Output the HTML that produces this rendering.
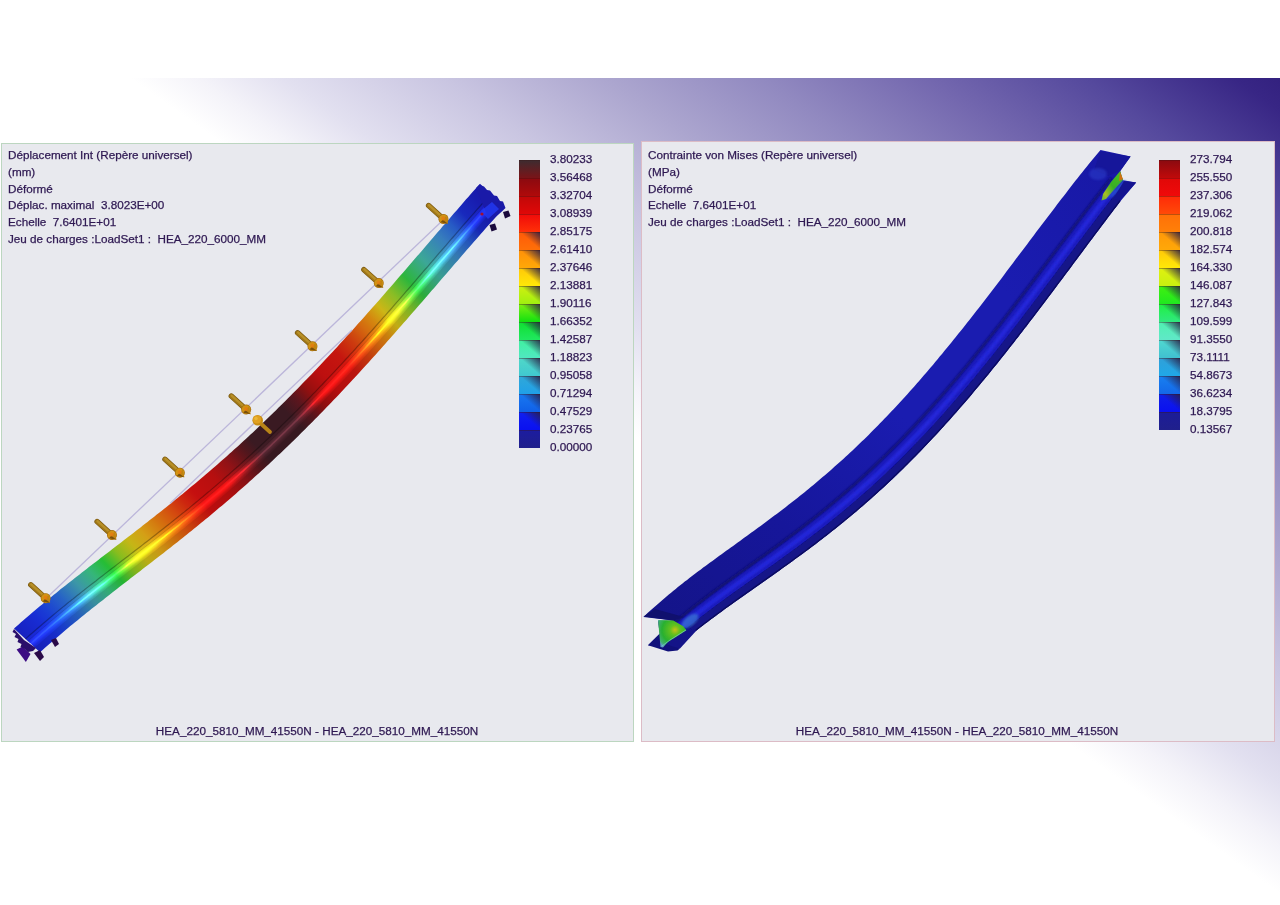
<!DOCTYPE html>
<html><head><meta charset="utf-8"><style>
*{margin:0;padding:0}
body{width:1280px;height:905px;position:relative;overflow:hidden;background:#fff;font-family:"Liberation Sans",sans-serif;color:#2e1852;-webkit-text-stroke:0.25px #2e1852}
.t{position:absolute;font-size:11.7px;line-height:16.7px;white-space:pre}
.lab{position:absolute;font-size:11.7px;line-height:16px;white-space:pre}
.seg{position:absolute;width:21px;height:18px;box-shadow:inset 0 1px 0 rgba(60,20,20,0.35)}
.cap{position:absolute;font-size:11.7px;line-height:14px;white-space:pre;text-align:center;width:632px}
</style></head><body>
<svg width="1280" height="905" viewBox="0 0 1280 905" style="position:absolute;left:0;top:0"><defs><filter id="b1" x="-10%" y="-10%" width="120%" height="120%"><feGaussianBlur stdDeviation="1.2"/></filter><filter id="b2" x="-10%" y="-10%" width="120%" height="120%"><feGaussianBlur stdDeviation="0.6"/></filter><linearGradient id="lbg" gradientUnits="userSpaceOnUse" x1="25" y1="643" x2="492" y2="197"><stop offset="0.0" stop-color="#1a22c8"/><stop offset="0.04" stop-color="#1a30e0"/><stop offset="0.06" stop-color="#1c44e0"/><stop offset="0.09" stop-color="#2a6ad0"/><stop offset="0.122" stop-color="#40a0b0"/><stop offset="0.15" stop-color="#38c080"/><stop offset="0.175" stop-color="#28c838"/><stop offset="0.2" stop-color="#90c820"/><stop offset="0.225" stop-color="#d0c018"/><stop offset="0.25" stop-color="#e0a818"/><stop offset="0.275" stop-color="#e08010"/><stop offset="0.305" stop-color="#e05010"/><stop offset="0.33" stop-color="#d82810"/><stop offset="0.35" stop-color="#d01010"/><stop offset="0.39" stop-color="#c01010"/><stop offset="0.42" stop-color="#981418"/><stop offset="0.45" stop-color="#5a181e"/><stop offset="0.47" stop-color="#3e1c24"/><stop offset="0.54" stop-color="#3e1c24"/><stop offset="0.565" stop-color="#601820"/><stop offset="0.59" stop-color="#a01010"/><stop offset="0.62" stop-color="#c81010"/><stop offset="0.66" stop-color="#d01810"/><stop offset="0.69" stop-color="#d84010"/><stop offset="0.716" stop-color="#e07010"/><stop offset="0.735" stop-color="#e09010"/><stop offset="0.756" stop-color="#d8c018"/><stop offset="0.786" stop-color="#90c828"/><stop offset="0.817" stop-color="#30c040"/><stop offset="0.856" stop-color="#40b0a0"/><stop offset="0.9" stop-color="#3a84c8"/><stop offset="0.925" stop-color="#2a60d0"/><stop offset="0.95" stop-color="#1a2cc8"/><stop offset="0.98" stop-color="#1a1eb8"/><stop offset="1.0" stop-color="#1a1ab4"/></linearGradient><linearGradient id="wg2" x1="1" y1="0" x2="0" y2="1"><stop offset="0" stop-color="#50c020"/><stop offset="0.5" stop-color="#38b020"/><stop offset="0.8" stop-color="#a8c020"/><stop offset="1" stop-color="#60b040"/></linearGradient><linearGradient id="rbg" gradientUnits="userSpaceOnUse" x1="660" y1="630" x2="1110" y2="170"><stop offset="0" stop-color="#141488"/><stop offset="0.25" stop-color="#16169a"/><stop offset="0.5" stop-color="#1a1cb0"/><stop offset="0.75" stop-color="#1a1cb0"/><stop offset="1" stop-color="#1818a6"/></linearGradient><radialGradient id="webg" gradientUnits="userSpaceOnUse" cx="675" cy="630" r="20"><stop offset="0" stop-color="#c8c018"/><stop offset="0.25" stop-color="#60c020"/><stop offset="0.65" stop-color="#28b030"/><stop offset="0.9" stop-color="#40b070"/><stop offset="1" stop-color="#60a0c0"/></radialGradient><linearGradient id="bg" gradientUnits="userSpaceOnUse" x1="895.1" y1="620.7" x2="1280" y2="78"><stop offset="0" stop-color="#ffffff"/><stop offset="0.06" stop-color="#f4f3f9"/><stop offset="0.134" stop-color="#e2e0f0"/><stop offset="0.273" stop-color="#c9c5e1"/><stop offset="0.412" stop-color="#aca6cf"/><stop offset="0.551" stop-color="#9189c0"/><stop offset="0.69" stop-color="#7468af"/><stop offset="0.83" stop-color="#55499d"/><stop offset="0.96" stop-color="#382685"/><stop offset="1.0" stop-color="#33217f"/></linearGradient></defs><rect x="0" y="78" width="1280" height="827" fill="url(#bg)"/><rect x="1.5" y="143.5" width="632" height="598" fill="#e8e9ee" stroke="#bcd6c0" stroke-width="1"/><rect x="641.5" y="141.5" width="633" height="600" fill="#e8e9ee" stroke="#dcbcc6" stroke-width="1"/><polygon points="14.0,628.6 16.3,626.5 18.7,624.4 21.0,622.3 23.4,620.3 25.7,618.3 28.1,616.2 30.4,614.2 32.7,612.2 35.1,610.3 37.4,608.3 39.8,606.3 42.1,604.4 44.4,602.4 46.8,600.5 49.1,598.6 51.5,596.7 53.8,594.8 56.2,592.9 58.5,591.0 60.8,589.1 63.2,587.3 65.5,585.4 67.9,583.6 70.2,581.7 72.5,579.9 74.9,578.0 77.2,576.2 79.6,574.4 81.9,572.6 84.3,570.7 86.6,568.9 88.9,567.1 91.3,565.3 93.6,563.5 96.0,561.7 98.3,559.9 100.6,558.1 103.0,556.3 105.3,554.5 107.7,552.7 110.0,550.9 112.4,549.1 114.7,547.3 117.0,545.5 119.4,543.7 121.7,541.9 124.1,540.1 126.4,538.3 128.7,536.5 131.1,534.7 133.4,532.9 135.8,531.1 138.1,529.3 140.5,527.5 142.8,525.6 145.1,523.8 147.5,522.0 149.8,520.1 152.2,518.3 154.5,516.5 156.8,514.6 159.2,512.8 161.5,510.9 163.9,509.0 166.2,507.2 168.6,505.3 170.9,503.4 173.2,501.5 175.6,499.6 177.9,497.7 180.3,495.8 182.6,493.9 184.9,492.0 187.3,490.0 189.6,488.1 192.0,486.1 194.3,484.2 196.7,482.2 199.0,480.3 201.3,478.3 203.7,476.3 206.0,474.3 208.4,472.3 210.7,470.3 213.0,468.2 215.4,466.2 217.7,464.2 220.1,462.1 222.4,460.1 224.8,458.0 227.1,455.9 229.4,453.8 231.8,451.7 234.1,449.6 236.5,447.5 238.8,445.4 241.1,443.2 243.5,441.1 245.8,438.9 248.2,436.8 250.5,434.6 252.9,432.4 255.2,430.2 257.5,428.0 259.9,425.8 262.2,423.5 264.6,421.3 266.9,419.0 269.2,416.8 271.6,414.5 273.9,412.2 276.3,409.9 278.6,407.6 281.0,405.3 283.3,403.0 285.6,400.7 288.0,398.3 290.3,396.0 292.7,393.6 295.0,391.2 297.3,388.9 299.7,386.5 302.0,384.1 304.4,381.6 306.7,379.2 309.1,376.8 311.4,374.4 313.7,371.9 316.1,369.4 318.4,367.0 320.8,364.5 323.1,362.0 325.4,359.5 327.8,357.0 330.1,354.5 332.5,352.0 334.8,349.4 337.2,346.9 339.5,344.3 341.8,341.8 344.2,339.2 346.5,336.6 348.9,334.1 351.2,331.5 353.5,328.9 355.9,326.3 358.2,323.6 360.6,321.0 362.9,318.4 365.3,315.8 367.6,313.1 369.9,310.5 372.3,307.8 374.6,305.2 377.0,302.5 379.3,299.9 381.6,297.2 384.0,294.5 386.3,291.8 388.7,289.1 391.0,286.4 393.4,283.7 395.7,281.0 398.0,278.3 400.4,275.6 402.7,272.9 405.1,270.2 407.4,267.5 409.7,264.8 412.1,262.1 414.4,259.3 416.8,256.6 419.1,253.9 421.5,251.2 423.8,248.4 426.1,245.7 428.5,243.0 430.8,240.3 433.2,237.5 435.5,234.8 437.8,232.1 440.2,229.4 442.5,226.6 444.9,223.9 447.2,221.2 449.6,218.5 451.9,215.8 454.2,213.1 456.6,210.4 458.9,207.7 461.3,205.0 463.6,202.3 465.9,199.6 468.3,196.9 470.6,194.3 473.0,191.6 475.3,188.9 477.7,186.3 480.0,183.7 504.0,207.8 501.7,210.4 499.3,213.0 497.0,215.6 494.7,218.2 492.3,220.9 490.0,223.5 487.7,226.1 485.3,228.8 483.0,231.4 480.7,234.1 478.4,236.7 476.0,239.4 473.7,242.1 471.4,244.7 469.0,247.4 466.7,250.1 464.4,252.8 462.0,255.5 459.7,258.2 457.4,260.9 455.0,263.6 452.7,266.3 450.4,269.0 448.0,271.7 445.7,274.4 443.4,277.1 441.0,279.8 438.7,282.5 436.4,285.2 434.1,287.9 431.7,290.6 429.4,293.3 427.1,296.0 424.7,298.7 422.4,301.4 420.1,304.1 417.7,306.8 415.4,309.5 413.1,312.1 410.7,314.8 408.4,317.5 406.1,320.2 403.7,322.8 401.4,325.5 399.1,328.1 396.7,330.8 394.4,333.4 392.1,336.1 389.7,338.7 387.4,341.3 385.1,344.0 382.8,346.6 380.4,349.2 378.1,351.8 375.8,354.4 373.4,357.0 371.1,359.6 368.8,362.2 366.4,364.7 364.1,367.3 361.8,369.8 359.4,372.4 357.1,374.9 354.8,377.4 352.4,380.0 350.1,382.5 347.8,385.0 345.4,387.5 343.1,390.0 340.8,392.4 338.5,394.9 336.1,397.4 333.8,399.8 331.5,402.3 329.1,404.7 326.8,407.1 324.5,409.5 322.1,411.9 319.8,414.3 317.5,416.7 315.1,419.1 312.8,421.4 310.5,423.8 308.1,426.1 305.8,428.4 303.5,430.8 301.1,433.1 298.8,435.4 296.5,437.7 294.2,439.9 291.8,442.2 289.5,444.5 287.2,446.7 284.8,449.0 282.5,451.2 280.2,453.4 277.8,455.6 275.5,457.8 273.2,460.0 270.8,462.2 268.5,464.4 266.2,466.5 263.8,468.7 261.5,470.8 259.2,472.9 256.8,475.0 254.5,477.1 252.2,479.2 249.8,481.3 247.5,483.4 245.2,485.5 242.9,487.5 240.5,489.6 238.2,491.6 235.9,493.7 233.5,495.7 231.2,497.7 228.9,499.7 226.5,501.7 224.2,503.7 221.9,505.7 219.5,507.6 217.2,509.6 214.9,511.6 212.5,513.5 210.2,515.4 207.9,517.4 205.5,519.3 203.2,521.2 200.9,523.1 198.6,525.0 196.2,526.9 193.9,528.8 191.6,530.7 189.2,532.6 186.9,534.4 184.6,536.3 182.2,538.2 179.9,540.0 177.6,541.9 175.2,543.7 172.9,545.5 170.6,547.4 168.2,549.2 165.9,551.0 163.6,552.9 161.2,554.7 158.9,556.5 156.6,558.3 154.3,560.1 151.9,561.9 149.6,563.7 147.3,565.5 144.9,567.3 142.6,569.1 140.3,570.9 137.9,572.7 135.6,574.5 133.3,576.3 130.9,578.1 128.6,579.9 126.3,581.7 123.9,583.5 121.6,585.3 119.3,587.1 116.9,589.0 114.6,590.8 112.3,592.6 109.9,594.4 107.6,596.2 105.3,598.0 103.0,599.9 100.6,601.7 98.3,603.5 96.0,605.4 93.6,607.2 91.3,609.1 89.0,610.9 86.6,612.8 84.3,614.7 82.0,616.6 79.6,618.5 77.3,620.4 75.0,622.3 72.6,624.2 70.3,626.1 68.0,628.1 65.6,630.0 63.3,632.0 61.0,634.0 58.7,635.9 56.3,637.9 54.0,639.9 51.7,642.0 49.3,644.0 47.0,646.1 44.7,648.1 42.3,650.2 40.0,652.3" fill="url(#lbg)"/><polygon points="14.0,628.6 16.3,626.5 18.7,624.4 21.0,622.3 23.4,620.3 25.7,618.3 28.1,616.2 30.4,614.2 32.7,612.2 35.1,610.3 37.4,608.3 39.8,606.3 42.1,604.4 44.4,602.4 46.8,600.5 49.1,598.6 51.5,596.7 53.8,594.8 56.2,592.9 58.5,591.0 60.8,589.1 63.2,587.3 65.5,585.4 67.9,583.6 70.2,581.7 72.5,579.9 74.9,578.0 77.2,576.2 79.6,574.4 81.9,572.6 84.3,570.7 86.6,568.9 88.9,567.1 91.3,565.3 93.6,563.5 96.0,561.7 98.3,559.9 100.6,558.1 103.0,556.3 105.3,554.5 107.7,552.7 110.0,550.9 112.4,549.1 114.7,547.3 117.0,545.5 119.4,543.7 121.7,541.9 124.1,540.1 126.4,538.3 128.7,536.5 131.1,534.7 133.4,532.9 135.8,531.1 138.1,529.3 140.5,527.5 142.8,525.6 145.1,523.8 147.5,522.0 149.8,520.1 152.2,518.3 154.5,516.5 156.8,514.6 159.2,512.8 161.5,510.9 163.9,509.0 166.2,507.2 168.6,505.3 170.9,503.4 173.2,501.5 175.6,499.6 177.9,497.7 180.3,495.8 182.6,493.9 184.9,492.0 187.3,490.0 189.6,488.1 192.0,486.1 194.3,484.2 196.7,482.2 199.0,480.3 201.3,478.3 203.7,476.3 206.0,474.3 208.4,472.3 210.7,470.3 213.0,468.2 215.4,466.2 217.7,464.2 220.1,462.1 222.4,460.1 224.8,458.0 227.1,455.9 229.4,453.8 231.8,451.7 234.1,449.6 236.5,447.5 238.8,445.4 241.1,443.2 243.5,441.1 245.8,438.9 248.2,436.8 250.5,434.6 252.9,432.4 255.2,430.2 257.5,428.0 259.9,425.8 262.2,423.5 264.6,421.3 266.9,419.0 269.2,416.8 271.6,414.5 273.9,412.2 276.3,409.9 278.6,407.6 281.0,405.3 283.3,403.0 285.6,400.7 288.0,398.3 290.3,396.0 292.7,393.6 295.0,391.2 297.3,388.9 299.7,386.5 302.0,384.1 304.4,381.6 306.7,379.2 309.1,376.8 311.4,374.4 313.7,371.9 316.1,369.4 318.4,367.0 320.8,364.5 323.1,362.0 325.4,359.5 327.8,357.0 330.1,354.5 332.5,352.0 334.8,349.4 337.2,346.9 339.5,344.3 341.8,341.8 344.2,339.2 346.5,336.6 348.9,334.1 351.2,331.5 353.5,328.9 355.9,326.3 358.2,323.6 360.6,321.0 362.9,318.4 365.3,315.8 367.6,313.1 369.9,310.5 372.3,307.8 374.6,305.2 377.0,302.5 379.3,299.9 381.6,297.2 384.0,294.5 386.3,291.8 388.7,289.1 391.0,286.4 393.4,283.7 395.7,281.0 398.0,278.3 400.4,275.6 402.7,272.9 405.1,270.2 407.4,267.5 409.7,264.8 412.1,262.1 414.4,259.3 416.8,256.6 419.1,253.9 421.5,251.2 423.8,248.4 426.1,245.7 428.5,243.0 430.8,240.3 433.2,237.5 435.5,234.8 437.8,232.1 440.2,229.4 442.5,226.6 444.9,223.9 447.2,221.2 449.6,218.5 451.9,215.8 454.2,213.1 456.6,210.4 458.9,207.7 461.3,205.0 463.6,202.3 465.9,199.6 468.3,196.9 470.6,194.3 473.0,191.6 475.3,188.9 477.7,186.3 480.0,183.7 490.3,194.0 488.0,196.7 485.6,199.3 483.3,201.9 481.0,204.6 478.6,207.2 476.3,209.9 474.0,212.5 471.6,215.2 469.3,217.9 466.9,220.6 464.6,223.2 462.3,225.9 459.9,228.6 457.6,231.3 455.3,234.0 452.9,236.7 450.6,239.4 448.2,242.1 445.9,244.9 443.6,247.6 441.2,250.3 438.9,253.0 436.6,255.7 434.2,258.4 431.9,261.1 429.5,263.9 427.2,266.6 424.9,269.3 422.5,272.0 420.2,274.7 417.9,277.4 415.5,280.1 413.2,282.8 410.8,285.6 408.5,288.3 406.2,291.0 403.8,293.6 401.5,296.3 399.2,299.0 396.8,301.7 394.5,304.4 392.1,307.1 389.8,309.7 387.5,312.4 385.1,315.1 382.8,317.7 380.5,320.4 378.1,323.0 375.8,325.6 373.5,328.3 371.1,330.9 368.8,333.5 366.4,336.1 364.1,338.7 361.8,341.3 359.4,343.9 357.1,346.5 354.8,349.1 352.4,351.6 350.1,354.2 347.7,356.8 345.4,359.3 343.1,361.8 340.7,364.4 338.4,366.9 336.1,369.4 333.7,371.9 331.4,374.4 329.0,376.9 326.7,379.3 324.4,381.8 322.0,384.2 319.7,386.7 317.4,389.1 315.0,391.6 312.7,394.0 310.3,396.4 308.0,398.8 305.7,401.2 303.3,403.5 301.0,405.9 298.7,408.3 296.3,410.6 294.0,412.9 291.6,415.3 289.3,417.6 287.0,419.9 284.6,422.2 282.3,424.5 280.0,426.7 277.6,429.0 275.3,431.3 272.9,433.5 270.6,435.7 268.3,438.0 265.9,440.2 263.6,442.4 261.3,444.6 258.9,446.8 256.6,448.9 254.2,451.1 251.9,453.2 249.6,455.4 247.2,457.5 244.9,459.6 242.6,461.7 240.2,463.9 237.9,465.9 235.5,468.0 233.2,470.1 230.9,472.2 228.5,474.2 226.2,476.3 223.9,478.3 221.5,480.3 219.2,482.3 216.8,484.4 214.5,486.4 212.2,488.3 209.8,490.3 207.5,492.3 205.2,494.3 202.8,496.2 200.5,498.2 198.1,500.1 195.8,502.1 193.5,504.0 191.1,505.9 188.8,507.8 186.5,509.7 184.1,511.6 181.8,513.5 179.4,515.4 177.1,517.3 174.8,519.2 172.4,521.0 170.1,522.9 167.8,524.7 165.4,526.6 163.1,528.4 160.7,530.3 158.4,532.1 156.1,533.9 153.7,535.8 151.4,537.6 149.1,539.4 146.7,541.2 144.4,543.0 142.0,544.9 139.7,546.7 137.4,548.5 135.0,550.3 132.7,552.1 130.4,553.9 128.0,555.7 125.7,557.5 123.4,559.3 121.0,561.1 118.7,562.9 116.3,564.7 114.0,566.5 111.7,568.3 109.3,570.1 107.0,571.9 104.7,573.7 102.3,575.5 100.0,577.3 97.6,579.1 95.3,580.9 93.0,582.7 90.6,584.6 88.3,586.4 86.0,588.2 83.6,590.0 81.3,591.9 78.9,593.7 76.6,595.6 74.3,597.5 71.9,599.3 69.6,601.2 67.3,603.1 64.9,605.0 62.6,606.9 60.2,608.8 57.9,610.7 55.6,612.6 53.2,614.6 50.9,616.5 48.6,618.5 46.2,620.4 43.9,622.4 41.5,624.4 39.2,626.4 36.9,628.5 34.5,630.5 32.2,632.5 29.9,634.6 27.5,636.7 25.2,638.8" fill="#000" opacity="0.05"/><polyline points="25.4,639.0 27.8,636.9 30.1,634.8 32.5,632.8 34.8,630.7 37.1,628.7 39.5,626.7 41.8,624.7 44.1,622.7 46.5,620.7 48.8,618.7 51.2,616.7 53.5,614.8 55.8,612.9 58.2,610.9 60.5,609.0 62.8,607.1 65.2,605.2 67.5,603.3 69.8,601.4 72.2,599.6 74.5,597.7 76.9,595.8 79.2,594.0 81.5,592.1 83.9,590.3 86.2,588.4 88.5,586.6 90.9,584.8 93.2,583.0 95.6,581.2 97.9,579.3 100.2,577.5 102.6,575.7 104.9,573.9 107.2,572.1 109.6,570.3 111.9,568.5 114.3,566.7 116.6,564.9 118.9,563.1 121.3,561.3 123.6,559.5 125.9,557.7 128.3,555.9 130.6,554.1 133.0,552.3 135.3,550.5 137.6,548.7 140.0,546.9 142.3,545.1 144.6,543.3 147.0,541.5 149.3,539.7 151.7,537.8 154.0,536.0 156.3,534.2 158.7,532.3 161.0,530.5 163.3,528.7 165.7,526.8 168.0,525.0 170.4,523.1 172.7,521.3 175.0,519.4 177.4,517.5 179.7,515.6 182.0,513.7 184.4,511.9 186.7,510.0 189.1,508.1 191.4,506.1 193.7,504.2 196.1,502.3 198.4,500.4 200.7,498.4 203.1,496.5 205.4,494.5 207.7,492.5 210.1,490.6 212.4,488.6 214.8,486.6 217.1,484.6 219.4,482.6 221.8,480.6 224.1,478.5 226.4,476.5 228.8,474.5 231.1,472.4 233.5,470.3 235.8,468.3 238.1,466.2 240.5,464.1 242.8,462.0 245.1,459.9 247.5,457.7 249.8,455.6 252.2,453.5 254.5,451.3 256.8,449.2 259.2,447.0 261.5,444.8 263.8,442.6 266.2,440.4 268.5,438.2 270.9,436.0 273.2,433.7 275.5,431.5 277.9,429.2 280.2,427.0 282.5,424.7 284.9,422.4 287.2,420.1 289.6,417.8 291.9,415.5 294.2,413.2 296.6,410.8 298.9,408.5 301.2,406.1 303.6,403.8 305.9,401.4 308.3,399.0 310.6,396.6 312.9,394.2 315.3,391.8 317.6,389.4 319.9,386.9 322.3,384.5 324.6,382.0 326.9,379.6 329.3,377.1 331.6,374.6 334.0,372.1 336.3,369.6 338.6,367.1 341.0,364.6 343.3,362.1 345.6,359.5 348.0,357.0 350.3,354.4 352.7,351.9 355.0,349.3 357.3,346.7 359.7,344.1 362.0,341.6 364.3,339.0 366.7,336.4 369.0,333.7 371.4,331.1 373.7,328.5 376.0,325.9 378.4,323.2 380.7,320.6 383.0,317.9 385.4,315.3 387.7,312.6 390.1,310.0 392.4,307.3 394.7,304.6 397.1,301.9 399.4,299.3 401.7,296.6 404.1,293.9 406.4,291.2 408.8,288.5 411.1,285.8 413.4,283.1 415.8,280.4 418.1,277.7 420.4,275.0 422.8,272.2 425.1,269.5 427.5,266.8 429.8,264.1 432.1,261.4 434.5,258.7 436.8,255.9 439.1,253.2 441.5,250.5 443.8,247.8 446.2,245.1 448.5,242.4 450.8,239.7 453.2,237.0 455.5,234.3 457.8,231.6 460.2,228.9 462.5,226.2 464.8,223.5 467.2,220.8 469.5,218.1 471.9,215.4 474.2,212.8 476.5,210.1 478.9,207.5 481.2,204.8 483.5,202.2 485.9,199.5 488.2,196.9 490.6,194.3" fill="none" stroke="#000" stroke-opacity="0.32" stroke-width="1.2"/><polyline points="30.6,643.8 33.0,641.7 35.3,639.6 37.6,637.5 40.0,635.5 42.3,633.4 44.7,631.4 47.0,629.4 49.3,627.4 51.7,625.4 54.0,623.4 56.3,621.5 58.7,619.5 61.0,617.6 63.3,615.7 65.7,613.7 68.0,611.8 70.3,609.9 72.7,608.0 75.0,606.2 77.3,604.3 79.7,602.4 82.0,600.6 84.4,598.7 86.7,596.9 89.0,595.0 91.4,593.2 93.7,591.3 96.0,589.5 98.4,587.7 100.7,585.9 103.0,584.1 105.4,582.3 107.7,580.4 110.0,578.6 112.4,576.8 114.7,575.0 117.0,573.2 119.4,571.4 121.7,569.6 124.1,567.8 126.4,566.0 128.7,564.2 131.1,562.4 133.4,560.6 135.7,558.8 138.1,557.0 140.4,555.2 142.7,553.4 145.1,551.6 147.4,549.8 149.7,548.0 152.1,546.2 154.4,544.4 156.7,542.5 159.1,540.7 161.4,538.9 163.8,537.1 166.1,535.2 168.4,533.4 170.8,531.5 173.1,529.7 175.4,527.8 177.8,526.0 180.1,524.1 182.4,522.2 184.8,520.3 187.1,518.5 189.4,516.6 191.8,514.7 194.1,512.8 196.4,510.8 198.8,508.9 201.1,507.0 203.5,505.1 205.8,503.1 208.1,501.2 210.5,499.2 212.8,497.2 215.1,495.3 217.5,493.3 219.8,491.3 222.1,489.3 224.5,487.3 226.8,485.2 229.1,483.2 231.5,481.2 233.8,479.1 236.1,477.1 238.5,475.0 240.8,472.9 243.2,470.8 245.5,468.7 247.8,466.6 250.2,464.5 252.5,462.4 254.8,460.3 257.2,458.1 259.5,456.0 261.8,453.8 264.2,451.6 266.5,449.5 268.8,447.3 271.2,445.1 273.5,442.8 275.8,440.6 278.2,438.4 280.5,436.1 282.8,433.9 285.2,431.6 287.5,429.3 289.9,427.0 292.2,424.7 294.5,422.4 296.9,420.1 299.2,417.8 301.5,415.5 303.9,413.1 306.2,410.7 308.5,408.4 310.9,406.0 313.2,403.6 315.5,401.2 317.9,398.8 320.2,396.4 322.5,394.0 324.9,391.5 327.2,389.1 329.6,386.6 331.9,384.2 334.2,381.7 336.6,379.2 338.9,376.7 341.2,374.2 343.6,371.7 345.9,369.2 348.2,366.7 350.6,364.1 352.9,361.6 355.2,359.0 357.6,356.5 359.9,353.9 362.2,351.3 364.6,348.7 366.9,346.1 369.3,343.5 371.6,340.9 373.9,338.3 376.3,335.7 378.6,333.1 380.9,330.5 383.3,327.8 385.6,325.2 387.9,322.5 390.3,319.9 392.6,317.2 394.9,314.6 397.3,311.9 399.6,309.2 401.9,306.5 404.3,303.9 406.6,301.2 409.0,298.5 411.3,295.8 413.6,293.1 416.0,290.4 418.3,287.7 420.6,285.0 423.0,282.3 425.3,279.6 427.6,276.9 430.0,274.2 432.3,271.4 434.6,268.7 437.0,266.0 439.3,263.3 441.6,260.6 444.0,257.9 446.3,255.2 448.7,252.5 451.0,249.8 453.3,247.1 455.7,244.4 458.0,241.7 460.3,239.0 462.7,236.3 465.0,233.6 467.3,230.9 469.7,228.2 472.0,225.5 474.3,222.9 476.7,220.2 479.0,217.5 481.3,214.9 483.7,212.2 486.0,209.6 488.4,207.0 490.7,204.3 493.0,201.7 495.4,199.1" fill="none" stroke="#4a4a4a" stroke-width="6" style="mix-blend-mode:color-dodge" filter="url(#b1)"/><polyline points="30.6,643.8 33.0,641.7 35.3,639.6 37.6,637.5 40.0,635.5 42.3,633.4 44.7,631.4 47.0,629.4 49.3,627.4 51.7,625.4 54.0,623.4 56.3,621.5 58.7,619.5 61.0,617.6 63.3,615.7 65.7,613.7 68.0,611.8 70.3,609.9 72.7,608.0 75.0,606.2 77.3,604.3 79.7,602.4 82.0,600.6 84.4,598.7 86.7,596.9 89.0,595.0 91.4,593.2 93.7,591.3 96.0,589.5 98.4,587.7 100.7,585.9 103.0,584.1 105.4,582.3 107.7,580.4 110.0,578.6 112.4,576.8 114.7,575.0 117.0,573.2 119.4,571.4 121.7,569.6 124.1,567.8 126.4,566.0 128.7,564.2 131.1,562.4 133.4,560.6 135.7,558.8 138.1,557.0 140.4,555.2 142.7,553.4 145.1,551.6 147.4,549.8 149.7,548.0 152.1,546.2 154.4,544.4 156.7,542.5 159.1,540.7 161.4,538.9 163.8,537.1 166.1,535.2 168.4,533.4 170.8,531.5 173.1,529.7 175.4,527.8 177.8,526.0 180.1,524.1 182.4,522.2 184.8,520.3 187.1,518.5 189.4,516.6 191.8,514.7 194.1,512.8 196.4,510.8 198.8,508.9 201.1,507.0 203.5,505.1 205.8,503.1 208.1,501.2 210.5,499.2 212.8,497.2 215.1,495.3 217.5,493.3 219.8,491.3 222.1,489.3 224.5,487.3 226.8,485.2 229.1,483.2 231.5,481.2 233.8,479.1 236.1,477.1 238.5,475.0 240.8,472.9 243.2,470.8 245.5,468.7 247.8,466.6 250.2,464.5 252.5,462.4 254.8,460.3 257.2,458.1 259.5,456.0 261.8,453.8 264.2,451.6 266.5,449.5 268.8,447.3 271.2,445.1 273.5,442.8 275.8,440.6 278.2,438.4 280.5,436.1 282.8,433.9 285.2,431.6 287.5,429.3 289.9,427.0 292.2,424.7 294.5,422.4 296.9,420.1 299.2,417.8 301.5,415.5 303.9,413.1 306.2,410.7 308.5,408.4 310.9,406.0 313.2,403.6 315.5,401.2 317.9,398.8 320.2,396.4 322.5,394.0 324.9,391.5 327.2,389.1 329.6,386.6 331.9,384.2 334.2,381.7 336.6,379.2 338.9,376.7 341.2,374.2 343.6,371.7 345.9,369.2 348.2,366.7 350.6,364.1 352.9,361.6 355.2,359.0 357.6,356.5 359.9,353.9 362.2,351.3 364.6,348.7 366.9,346.1 369.3,343.5 371.6,340.9 373.9,338.3 376.3,335.7 378.6,333.1 380.9,330.5 383.3,327.8 385.6,325.2 387.9,322.5 390.3,319.9 392.6,317.2 394.9,314.6 397.3,311.9 399.6,309.2 401.9,306.5 404.3,303.9 406.6,301.2 409.0,298.5 411.3,295.8 413.6,293.1 416.0,290.4 418.3,287.7 420.6,285.0 423.0,282.3 425.3,279.6 427.6,276.9 430.0,274.2 432.3,271.4 434.6,268.7 437.0,266.0 439.3,263.3 441.6,260.6 444.0,257.9 446.3,255.2 448.7,252.5 451.0,249.8 453.3,247.1 455.7,244.4 458.0,241.7 460.3,239.0 462.7,236.3 465.0,233.6 467.3,230.9 469.7,228.2 472.0,225.5 474.3,222.9 476.7,220.2 479.0,217.5 481.3,214.9 483.7,212.2 486.0,209.6 488.4,207.0 490.7,204.3 493.0,201.7 495.4,199.1" fill="none" stroke="#4a4a4a" stroke-width="1.6" style="mix-blend-mode:color-dodge" filter="url(#b2)"/><polyline points="27.8,641.2 30.1,639.1 32.5,637.0 34.8,634.9 37.1,632.9 39.5,630.8 41.8,628.8 44.1,626.8 46.5,624.8 48.8,622.8 51.1,620.8 53.5,618.9 55.8,616.9 58.2,615.0 60.5,613.1 62.8,611.1 65.2,609.2 67.5,607.3 69.8,605.4 72.2,603.6 74.5,601.7 76.8,599.8 79.2,598.0 81.5,596.1 83.9,594.3 86.2,592.4 88.5,590.6 90.9,588.7 93.2,586.9 95.5,585.1 97.9,583.3 100.2,581.5 102.5,579.7 104.9,577.8 107.2,576.0 109.6,574.2 111.9,572.4 114.2,570.6 116.6,568.8 118.9,567.0 121.2,565.2 123.6,563.4 125.9,561.6 128.2,559.8 130.6,558.0 132.9,556.2 135.3,554.4 137.6,552.6 139.9,550.8 142.3,549.0 144.6,547.2 146.9,545.4 149.3,543.6 151.6,541.8 153.9,540.0 156.3,538.1 158.6,536.3 161.0,534.5 163.3,532.6 165.6,530.8 168.0,528.9 170.3,527.1 172.6,525.2 175.0,523.4 177.3,521.5 179.6,519.6 182.0,517.8 184.3,515.9 186.7,514.0 189.0,512.1 191.3,510.2 193.7,508.3 196.0,506.3 198.3,504.4 200.7,502.5 203.0,500.5 205.3,498.6 207.7,496.6 210.0,494.6 212.4,492.7 214.7,490.7 217.0,488.7 219.4,486.7 221.7,484.7 224.0,482.7 226.4,480.6 228.7,478.6 231.0,476.6 233.4,474.5 235.7,472.4 238.1,470.4 240.4,468.3 242.7,466.2 245.1,464.1 247.4,462.0 249.7,459.8 252.1,457.7 254.4,455.6 256.7,453.4 259.1,451.3 261.4,449.1 263.8,446.9 266.1,444.7 268.4,442.5 270.8,440.3 273.1,438.1 275.4,435.8 277.8,433.6 280.1,431.3 282.4,429.1 284.8,426.8 287.1,424.5 289.5,422.2 291.8,419.9 294.1,417.6 296.5,415.3 298.8,412.9 301.1,410.6 303.5,408.2 305.8,405.8 308.1,403.5 310.5,401.1 312.8,398.7 315.2,396.3 317.5,393.9 319.8,391.4 322.2,389.0 324.5,386.5 326.8,384.1 329.2,381.6 331.5,379.2 333.8,376.7 336.2,374.2 338.5,371.7 340.9,369.2 343.2,366.7 345.5,364.1 347.9,361.6 350.2,359.0 352.5,356.5 354.9,353.9 357.2,351.4 359.5,348.8 361.9,346.2 364.2,343.6 366.6,341.0 368.9,338.4 371.2,335.8 373.6,333.2 375.9,330.6 378.2,327.9 380.6,325.3 382.9,322.7 385.2,320.0 387.6,317.4 389.9,314.7 392.3,312.0 394.6,309.4 396.9,306.7 399.3,304.0 401.6,301.3 403.9,298.6 406.3,295.9 408.6,293.3 410.9,290.6 413.3,287.9 415.6,285.2 418.0,282.4 420.3,279.7 422.6,277.0 425.0,274.3 427.3,271.6 429.6,268.9 432.0,266.2 434.3,263.5 436.6,260.8 439.0,258.0 441.3,255.3 443.7,252.6 446.0,249.9 448.3,247.2 450.7,244.5 453.0,241.8 455.3,239.1 457.7,236.4 460.0,233.7 462.3,231.0 464.7,228.3 467.0,225.6 469.4,222.9 471.7,220.3 474.0,217.6 476.4,214.9 478.7,212.3 481.0,209.6 483.4,207.0 485.7,204.3 488.0,201.7 490.4,199.1 492.7,196.5" fill="none" stroke="#000" stroke-opacity="0.12" stroke-width="1"/><polygon points="34.8,647.6 37.1,645.5 39.5,643.4 41.8,641.3 44.1,639.3 46.5,637.2 48.8,635.2 51.1,633.2 53.5,631.2 55.8,629.2 58.1,627.2 60.5,625.3 62.8,623.3 65.1,621.4 67.5,619.5 69.8,617.5 72.1,615.6 74.5,613.7 76.8,611.8 79.1,610.0 81.5,608.1 83.8,606.2 86.1,604.3 88.5,602.5 90.8,600.6 93.1,598.8 95.5,597.0 97.8,595.1 100.1,593.3 102.5,591.5 104.8,589.7 107.1,587.8 109.5,586.0 111.8,584.2 114.1,582.4 116.5,580.6 118.8,578.8 121.1,577.0 123.5,575.2 125.8,573.4 128.1,571.6 130.5,569.8 132.8,568.0 135.1,566.2 137.5,564.4 139.8,562.6 142.1,560.8 144.5,559.0 146.8,557.2 149.1,555.4 151.5,553.6 153.8,551.8 156.2,550.0 158.5,548.1 160.8,546.3 163.2,544.5 165.5,542.7 167.8,540.8 170.2,539.0 172.5,537.2 174.8,535.3 177.2,533.5 179.5,531.6 181.8,529.7 184.2,527.9 186.5,526.0 188.8,524.1 191.2,522.2 193.5,520.3 195.8,518.4 198.2,516.5 200.5,514.6 202.8,512.7 205.2,510.7 207.5,508.8 209.8,506.9 212.2,504.9 214.5,502.9 216.8,501.0 219.2,499.0 221.5,497.0 223.8,495.0 226.2,493.0 228.5,491.0 230.8,489.0 233.2,487.0 235.5,484.9 237.8,482.9 240.2,480.8 242.5,478.7 244.8,476.7 247.2,474.6 249.5,472.5 251.8,470.4 254.2,468.3 256.5,466.1 258.8,464.0 261.2,461.9 263.5,459.7 265.8,457.5 268.2,455.4 270.5,453.2 272.8,451.0 275.2,448.8 277.5,446.6 279.8,444.3 282.2,442.1 284.5,439.8 286.8,437.6 289.2,435.3 291.5,433.0 293.8,430.7 296.2,428.4 298.5,426.1 300.8,423.8 303.2,421.5 305.5,419.2 307.8,416.8 310.2,414.4 312.5,412.1 314.8,409.7 317.2,407.3 319.5,404.9 321.8,402.5 324.2,400.1 326.5,397.6 328.8,395.2 331.2,392.8 333.5,390.3 335.8,387.8 338.2,385.4 340.5,382.9 342.8,380.4 345.2,377.9 347.5,375.4 349.8,372.9 352.2,370.3 354.5,367.8 356.8,365.2 359.2,362.7 361.5,360.1 363.8,357.6 366.2,355.0 368.5,352.4 370.8,349.8 373.2,347.2 375.5,344.6 377.8,342.0 380.2,339.4 382.5,336.8 384.9,334.1 387.2,331.5 389.5,328.9 391.9,326.2 394.2,323.6 396.5,320.9 398.9,318.2 401.2,315.6 403.5,312.9 405.9,310.2 408.2,307.5 410.5,304.9 412.9,302.2 415.2,299.5 417.5,296.8 419.9,294.1 422.2,291.4 424.5,288.7 426.9,286.0 429.2,283.3 431.5,280.6 433.9,277.9 436.2,275.2 438.5,272.4 440.9,269.7 443.2,267.0 445.5,264.3 447.9,261.6 450.2,258.9 452.5,256.2 454.9,253.5 457.2,250.8 459.5,248.1 461.9,245.4 464.2,242.7 466.5,240.0 468.9,237.4 471.2,234.7 473.5,232.0 475.9,229.3 478.2,226.7 480.5,224.0 482.9,221.4 485.2,218.7 487.5,216.1 489.9,213.4 492.2,210.8 494.5,208.2 496.9,205.6 499.2,203.0 504.0,207.8 501.7,210.4 499.3,213.0 497.0,215.6 494.7,218.2 492.3,220.9 490.0,223.5 487.7,226.1 485.3,228.8 483.0,231.4 480.7,234.1 478.4,236.7 476.0,239.4 473.7,242.1 471.4,244.7 469.0,247.4 466.7,250.1 464.4,252.8 462.0,255.5 459.7,258.2 457.4,260.9 455.0,263.6 452.7,266.3 450.4,269.0 448.0,271.7 445.7,274.4 443.4,277.1 441.0,279.8 438.7,282.5 436.4,285.2 434.1,287.9 431.7,290.6 429.4,293.3 427.1,296.0 424.7,298.7 422.4,301.4 420.1,304.1 417.7,306.8 415.4,309.5 413.1,312.1 410.7,314.8 408.4,317.5 406.1,320.2 403.7,322.8 401.4,325.5 399.1,328.1 396.7,330.8 394.4,333.4 392.1,336.1 389.7,338.7 387.4,341.3 385.1,344.0 382.8,346.6 380.4,349.2 378.1,351.8 375.8,354.4 373.4,357.0 371.1,359.6 368.8,362.2 366.4,364.7 364.1,367.3 361.8,369.8 359.4,372.4 357.1,374.9 354.8,377.4 352.4,380.0 350.1,382.5 347.8,385.0 345.4,387.5 343.1,390.0 340.8,392.4 338.5,394.9 336.1,397.4 333.8,399.8 331.5,402.3 329.1,404.7 326.8,407.1 324.5,409.5 322.1,411.9 319.8,414.3 317.5,416.7 315.1,419.1 312.8,421.4 310.5,423.8 308.1,426.1 305.8,428.4 303.5,430.8 301.1,433.1 298.8,435.4 296.5,437.7 294.2,439.9 291.8,442.2 289.5,444.5 287.2,446.7 284.8,449.0 282.5,451.2 280.2,453.4 277.8,455.6 275.5,457.8 273.2,460.0 270.8,462.2 268.5,464.4 266.2,466.5 263.8,468.7 261.5,470.8 259.2,472.9 256.8,475.0 254.5,477.1 252.2,479.2 249.8,481.3 247.5,483.4 245.2,485.5 242.9,487.5 240.5,489.6 238.2,491.6 235.9,493.7 233.5,495.7 231.2,497.7 228.9,499.7 226.5,501.7 224.2,503.7 221.9,505.7 219.5,507.6 217.2,509.6 214.9,511.6 212.5,513.5 210.2,515.4 207.9,517.4 205.5,519.3 203.2,521.2 200.9,523.1 198.6,525.0 196.2,526.9 193.9,528.8 191.6,530.7 189.2,532.6 186.9,534.4 184.6,536.3 182.2,538.2 179.9,540.0 177.6,541.9 175.2,543.7 172.9,545.5 170.6,547.4 168.2,549.2 165.9,551.0 163.6,552.9 161.2,554.7 158.9,556.5 156.6,558.3 154.3,560.1 151.9,561.9 149.6,563.7 147.3,565.5 144.9,567.3 142.6,569.1 140.3,570.9 137.9,572.7 135.6,574.5 133.3,576.3 130.9,578.1 128.6,579.9 126.3,581.7 123.9,583.5 121.6,585.3 119.3,587.1 116.9,589.0 114.6,590.8 112.3,592.6 109.9,594.4 107.6,596.2 105.3,598.0 103.0,599.9 100.6,601.7 98.3,603.5 96.0,605.4 93.6,607.2 91.3,609.1 89.0,610.9 86.6,612.8 84.3,614.7 82.0,616.6 79.6,618.5 77.3,620.4 75.0,622.3 72.6,624.2 70.3,626.1 68.0,628.1 65.6,630.0 63.3,632.0 61.0,634.0 58.7,635.9 56.3,637.9 54.0,639.9 51.7,642.0 49.3,644.0 47.0,646.1 44.7,648.1 42.3,650.2 40.0,652.3" fill="#000" opacity="0.10"/><line x1="45.8" y1="598.7" x2="443.6" y2="219.5" stroke="#bcb6da" stroke-width="1.3"/><line x1="170" y1="503.5" x2="352" y2="330" stroke="#bcb6da" stroke-width="1.3"/><g transform="translate(50.5,602.5) rotate(42)"><line x1="-26.5" y1="0" x2="-8" y2="0" stroke="#7a5810" stroke-width="5.4" stroke-linecap="round"/><line x1="-26.5" y1="0" x2="-8" y2="0" stroke="#a07818" stroke-width="4.2" stroke-linecap="round"/><line x1="-26.5" y1="-0.6" x2="-8" y2="-0.6" stroke="#b89028" stroke-width="2.2" stroke-linecap="round"/><circle cx="-6.5" cy="0" r="5" fill="#a87010"/><circle cx="-6.5" cy="0" r="4.3" fill="#d09414"/><polygon points="-6.5,-4.4 0,0.5 -6.5,4.4" fill="#c08410"/><polygon points="-6.5,1 0,0.5 -6.5,4.4" fill="#7a5008"/><circle cx="-7" cy="-0.3" r="2" fill="#e87810" opacity="0.7"/></g><g transform="translate(116.8,539.3) rotate(42)"><line x1="-26.5" y1="0" x2="-8" y2="0" stroke="#7a5810" stroke-width="5.4" stroke-linecap="round"/><line x1="-26.5" y1="0" x2="-8" y2="0" stroke="#a07818" stroke-width="4.2" stroke-linecap="round"/><line x1="-26.5" y1="-0.6" x2="-8" y2="-0.6" stroke="#b89028" stroke-width="2.2" stroke-linecap="round"/><circle cx="-6.5" cy="0" r="5" fill="#a87010"/><circle cx="-6.5" cy="0" r="4.3" fill="#d09414"/><polygon points="-6.5,-4.4 0,0.5 -6.5,4.4" fill="#c08410"/><polygon points="-6.5,1 0,0.5 -6.5,4.4" fill="#7a5008"/><circle cx="-7" cy="-0.3" r="2" fill="#e87810" opacity="0.7"/></g><g transform="translate(184.7,477.0) rotate(42)"><line x1="-26.5" y1="0" x2="-8" y2="0" stroke="#7a5810" stroke-width="5.4" stroke-linecap="round"/><line x1="-26.5" y1="0" x2="-8" y2="0" stroke="#a07818" stroke-width="4.2" stroke-linecap="round"/><line x1="-26.5" y1="-0.6" x2="-8" y2="-0.6" stroke="#b89028" stroke-width="2.2" stroke-linecap="round"/><circle cx="-6.5" cy="0" r="5" fill="#a87010"/><circle cx="-6.5" cy="0" r="4.3" fill="#d09414"/><polygon points="-6.5,-4.4 0,0.5 -6.5,4.4" fill="#c08410"/><polygon points="-6.5,1 0,0.5 -6.5,4.4" fill="#7a5008"/><circle cx="-7" cy="-0.3" r="2" fill="#e87810" opacity="0.7"/></g><g transform="translate(251.0,413.8) rotate(42)"><line x1="-26.5" y1="0" x2="-8" y2="0" stroke="#7a5810" stroke-width="5.4" stroke-linecap="round"/><line x1="-26.5" y1="0" x2="-8" y2="0" stroke="#a07818" stroke-width="4.2" stroke-linecap="round"/><line x1="-26.5" y1="-0.6" x2="-8" y2="-0.6" stroke="#b89028" stroke-width="2.2" stroke-linecap="round"/><circle cx="-6.5" cy="0" r="5" fill="#a87010"/><circle cx="-6.5" cy="0" r="4.3" fill="#d09414"/><polygon points="-6.5,-4.4 0,0.5 -6.5,4.4" fill="#c08410"/><polygon points="-6.5,1 0,0.5 -6.5,4.4" fill="#7a5008"/><circle cx="-7" cy="-0.3" r="2" fill="#e87810" opacity="0.7"/></g><g transform="translate(317.3,350.6) rotate(42)"><line x1="-26.5" y1="0" x2="-8" y2="0" stroke="#7a5810" stroke-width="5.4" stroke-linecap="round"/><line x1="-26.5" y1="0" x2="-8" y2="0" stroke="#a07818" stroke-width="4.2" stroke-linecap="round"/><line x1="-26.5" y1="-0.6" x2="-8" y2="-0.6" stroke="#b89028" stroke-width="2.2" stroke-linecap="round"/><circle cx="-6.5" cy="0" r="5" fill="#a87010"/><circle cx="-6.5" cy="0" r="4.3" fill="#d09414"/><polygon points="-6.5,-4.4 0,0.5 -6.5,4.4" fill="#c08410"/><polygon points="-6.5,1 0,0.5 -6.5,4.4" fill="#7a5008"/><circle cx="-7" cy="-0.3" r="2" fill="#e87810" opacity="0.7"/></g><g transform="translate(383.6,287.4) rotate(42)"><line x1="-26.5" y1="0" x2="-8" y2="0" stroke="#7a5810" stroke-width="5.4" stroke-linecap="round"/><line x1="-26.5" y1="0" x2="-8" y2="0" stroke="#a07818" stroke-width="4.2" stroke-linecap="round"/><line x1="-26.5" y1="-0.6" x2="-8" y2="-0.6" stroke="#b89028" stroke-width="2.2" stroke-linecap="round"/><circle cx="-6.5" cy="0" r="5" fill="#a87010"/><circle cx="-6.5" cy="0" r="4.3" fill="#d09414"/><polygon points="-6.5,-4.4 0,0.5 -6.5,4.4" fill="#c08410"/><polygon points="-6.5,1 0,0.5 -6.5,4.4" fill="#7a5008"/><circle cx="-7" cy="-0.3" r="2" fill="#e87810" opacity="0.7"/></g><g transform="translate(448.3,223.3) rotate(42)"><line x1="-26.5" y1="0" x2="-8" y2="0" stroke="#7a5810" stroke-width="5.4" stroke-linecap="round"/><line x1="-26.5" y1="0" x2="-8" y2="0" stroke="#a07818" stroke-width="4.2" stroke-linecap="round"/><line x1="-26.5" y1="-0.6" x2="-8" y2="-0.6" stroke="#b89028" stroke-width="2.2" stroke-linecap="round"/><circle cx="-6.5" cy="0" r="5" fill="#a87010"/><circle cx="-6.5" cy="0" r="4.3" fill="#d09414"/><polygon points="-6.5,-4.4 0,0.5 -6.5,4.4" fill="#c08410"/><polygon points="-6.5,1 0,0.5 -6.5,4.4" fill="#7a5008"/><circle cx="-7" cy="-0.3" r="2" fill="#e87810" opacity="0.7"/></g><line x1="258" y1="421" x2="270" y2="432" stroke="#b88418" stroke-width="3.8" stroke-linecap="round"/><circle cx="257.7" cy="420.2" r="5.3" fill="#c88c14"/><circle cx="257" cy="419.5" r="4" fill="#e0a020"/><circle cx="256" cy="418.5" r="1.8" fill="#f0c040" opacity="0.7"/><polygon points="16.6,649.5 22.8,646.4 30.5,654.1 25.9,661.9" fill="#3c0c84"/><polygon points="34,653 40,650 44,657 40,661" fill="#2a0a48"/><polygon points="51,640 56,638 59,644 55,647" fill="#2a0a48"/><polygon points="14,629 12.5,632 16,634 14.5,637 18.5,639 17.5,642 21.5,644 20.5,647 25,649 28,652 33,651 36,648 24,640" fill="#2a0e6a"/><polygon points="476,188 479.5,184.8 484,186.5 487,190 490,190.5 494,195.5 497,196 500,201 503,201.5 505.5,208 502.4,211 490,222" fill="#1a1aa8"/><polygon points="481,211 492,202 499,209 488,219" fill="#2438f0" opacity="0.85" filter="url(#b2)"/><circle cx="482" cy="214" r="1.6" fill="#a01030"/><polygon points="503,212 508.5,210.5 510.5,216 505,218.5" fill="#1a0a3c"/><polygon points="489.5,225 495,223.5 497,229.5 491.5,231.5" fill="#1a0a3c"/><polygon points="643.5,616.9 645.8,614.8 648.1,612.6 650.4,610.5 652.7,608.5 655.0,606.4 657.3,604.4 659.6,602.4 661.9,600.4 664.2,598.5 666.5,596.5 668.8,594.6 671.1,592.7 673.4,590.8 675.7,589.0 677.9,587.1 680.2,585.3 682.5,583.4 684.8,581.6 687.1,579.9 689.4,578.1 691.7,576.3 694.0,574.6 696.3,572.8 698.6,571.1 700.9,569.4 703.2,567.6 705.5,565.9 707.8,564.2 710.1,562.5 712.4,560.9 714.7,559.2 717.0,557.5 719.3,555.8 721.6,554.2 723.9,552.5 726.2,550.8 728.5,549.2 730.8,547.5 733.1,545.9 735.4,544.2 737.7,542.5 740.0,540.9 742.2,539.2 744.5,537.6 746.8,535.9 749.1,534.2 751.4,532.6 753.7,530.9 756.0,529.2 758.3,527.5 760.6,525.9 762.9,524.2 765.2,522.5 767.5,520.8 769.8,519.1 772.1,517.3 774.4,515.6 776.7,513.9 779.0,512.2 781.3,510.4 783.6,508.7 785.9,506.9 788.2,505.1 790.5,503.3 792.8,501.5 795.1,499.7 797.4,497.9 799.7,496.1 802.0,494.2 804.3,492.4 806.6,490.5 808.8,488.7 811.1,486.8 813.4,484.9 815.7,483.0 818.0,481.0 820.3,479.1 822.6,477.1 824.9,475.2 827.2,473.2 829.5,471.2 831.8,469.2 834.1,467.1 836.4,465.1 838.7,463.0 841.0,461.0 843.3,458.9 845.6,456.8 847.9,454.7 850.2,452.5 852.5,450.4 854.8,448.2 857.1,446.0 859.4,443.8 861.7,441.6 864.0,439.4 866.3,437.2 868.6,434.9 870.9,432.6 873.1,430.3 875.4,428.0 877.7,425.7 880.0,423.3 882.3,421.0 884.6,418.6 886.9,416.2 889.2,413.8 891.5,411.3 893.8,408.9 896.1,406.4 898.4,404.0 900.7,401.5 903.0,399.0 905.3,396.4 907.6,393.9 909.9,391.3 912.2,388.7 914.5,386.2 916.8,383.5 919.1,380.9 921.4,378.3 923.7,375.6 926.0,373.0 928.3,370.3 930.6,367.6 932.9,364.9 935.2,362.1 937.4,359.4 939.7,356.6 942.0,353.9 944.3,351.1 946.6,348.3 948.9,345.5 951.2,342.7 953.5,339.8 955.8,337.0 958.1,334.1 960.4,331.3 962.7,328.4 965.0,325.5 967.3,322.6 969.6,319.7 971.9,316.7 974.2,313.8 976.5,310.8 978.8,307.9 981.1,304.9 983.4,302.0 985.7,299.0 988.0,296.0 990.3,293.0 992.6,290.0 994.9,287.0 997.2,284.0 999.5,280.9 1001.8,277.9 1004.0,274.9 1006.3,271.8 1008.6,268.8 1010.9,265.7 1013.2,262.7 1015.5,259.6 1017.8,256.6 1020.1,253.5 1022.4,250.5 1024.7,247.4 1027.0,244.4 1029.3,241.3 1031.6,238.3 1033.9,235.2 1036.2,232.1 1038.5,229.1 1040.8,226.0 1043.1,223.0 1045.4,220.0 1047.7,216.9 1050.0,213.9 1052.3,210.9 1054.6,207.9 1056.9,204.8 1059.2,201.8 1061.5,198.8 1063.8,195.9 1066.1,192.9 1068.3,189.9 1070.6,187.0 1072.9,184.0 1075.2,181.1 1077.5,178.2 1079.8,175.3 1082.1,172.4 1084.4,169.5 1086.7,166.7 1089.0,163.8 1091.3,161.0 1093.6,158.2 1095.9,155.4 1098.2,152.7 1100.5,149.9 1130.6,156.6 1120.2,170.9 1122.1,177.9 1122.9,180.2 1136.2,182.5 1120.4,201.3 1118.3,204.1 1116.1,206.9 1114.0,209.6 1111.9,212.4 1109.7,215.3 1107.6,218.1 1105.5,220.9 1103.4,223.7 1101.2,226.6 1099.1,229.4 1097.0,232.2 1094.8,235.1 1092.7,237.9 1090.6,240.8 1088.4,243.6 1086.3,246.5 1084.2,249.3 1082.1,252.2 1079.9,255.1 1077.8,257.9 1075.7,260.8 1073.5,263.6 1071.4,266.5 1069.3,269.4 1067.1,272.2 1065.0,275.1 1062.9,277.9 1060.8,280.8 1058.6,283.6 1056.5,286.5 1054.4,289.3 1052.2,292.2 1050.1,295.0 1048.0,297.8 1045.8,300.7 1043.7,303.5 1041.6,306.3 1039.5,309.1 1037.3,311.9 1035.2,314.7 1033.1,317.5 1030.9,320.3 1028.8,323.1 1026.7,325.9 1024.5,328.6 1022.4,331.4 1020.3,334.1 1018.2,336.9 1016.0,339.6 1013.9,342.4 1011.8,345.1 1009.6,347.8 1007.5,350.5 1005.4,353.2 1003.2,355.9 1001.1,358.5 999.0,361.2 996.9,363.9 994.7,366.5 992.6,369.1 990.5,371.8 988.3,374.4 986.2,377.0 984.1,379.6 981.9,382.1 979.8,384.7 977.7,387.3 975.5,389.8 973.4,392.3 971.3,394.9 969.2,397.4 967.0,399.9 964.9,402.4 962.8,404.8 960.6,407.3 958.5,409.7 956.4,412.2 954.2,414.6 952.1,417.0 950.0,419.4 947.9,421.8 945.7,424.1 943.6,426.5 941.5,428.8 939.3,431.2 937.2,433.5 935.1,435.8 932.9,438.1 930.8,440.3 928.7,442.6 926.6,444.8 924.4,447.1 922.3,449.3 920.2,451.5 918.0,453.7 915.9,455.9 913.8,458.0 911.6,460.2 909.5,462.3 907.4,464.4 905.3,466.6 903.1,468.7 901.0,470.7 898.9,472.8 896.7,474.9 894.6,476.9 892.5,478.9 890.3,480.9 888.2,482.9 886.1,484.9 884.0,486.9 881.8,488.9 879.7,490.8 877.6,492.8 875.4,494.7 873.3,496.6 871.2,498.5 869.0,500.4 866.9,502.3 864.8,504.1 862.7,506.0 860.5,507.8 858.4,509.6 856.3,511.4 854.1,513.2 852.0,515.0 849.9,516.8 847.7,518.6 845.6,520.3 843.5,522.1 841.4,523.8 839.2,525.5 837.1,527.3 835.0,529.0 832.8,530.6 830.7,532.3 828.6,534.0 826.4,535.7 824.3,537.3 822.2,539.0 820.0,540.6 817.9,542.2 815.8,543.9 813.7,545.5 811.5,547.1 809.4,548.7 807.3,550.3 805.1,551.8 803.0,553.4 800.9,555.0 798.7,556.5 796.6,558.1 794.5,559.6 792.4,561.2 790.2,562.7 788.1,564.3 786.0,565.8 783.8,567.3 781.7,568.8 779.6,570.4 777.4,571.9 775.3,573.4 773.2,574.9 771.1,576.4 768.9,577.9 766.8,579.4 764.7,580.9 762.5,582.4 760.4,583.9 758.3,585.4 756.1,586.9 754.0,588.4 751.9,589.9 749.8,591.4 747.6,592.9 745.5,594.4 743.4,595.9 741.2,597.4 739.1,598.9 737.0,600.4 734.8,601.9 732.7,603.5 730.6,605.0 728.5,606.5 726.3,608.1 724.2,609.6 722.1,611.2 719.9,612.7 717.8,614.3 715.7,615.9 713.5,617.4 711.4,619.0 709.3,620.6 707.2,622.2 705.0,623.8 702.9,625.5 700.8,627.1 698.6,628.8 696.5,630.4 680.0,648.4 648.0,645.3 659.7,633.7 658.0,621.0 673.0,620.5" fill="url(#rbg)"/><polygon points="674.2,624.8 676.4,622.9 678.6,621.0 680.8,619.2 683.0,617.4 685.2,615.6 687.4,613.8 689.6,612.0 691.8,610.3 694.0,608.5 696.2,606.8 698.4,605.1 700.6,603.4 702.8,601.7 705.0,600.0 707.2,598.4 709.4,596.7 711.6,595.1 713.8,593.4 716.0,591.8 718.2,590.2 720.4,588.5 722.6,586.9 724.8,585.3 727.0,583.7 729.2,582.1 731.4,580.5 733.6,579.0 735.8,577.4 738.0,575.8 740.2,574.2 742.4,572.6 744.6,571.1 746.8,569.5 749.0,567.9 751.2,566.4 753.4,564.8 755.6,563.2 757.8,561.6 760.0,560.1 762.2,558.5 764.4,556.9 766.6,555.3 768.8,553.7 771.0,552.2 773.2,550.6 775.4,549.0 777.6,547.4 779.8,545.8 782.0,544.2 784.2,542.5 786.4,540.9 788.6,539.3 790.8,537.7 793.0,536.0 795.2,534.4 797.4,532.7 799.6,531.1 801.8,529.4 804.0,527.7 806.2,526.0 808.4,524.3 810.6,522.6 812.8,520.9 815.0,519.2 817.2,517.4 819.4,515.7 821.6,513.9 823.8,512.2 826.0,510.4 828.2,508.6 830.4,506.8 832.6,505.0 834.8,503.2 837.0,501.3 839.2,499.5 841.4,497.6 843.6,495.7 845.8,493.9 848.0,492.0 850.2,490.0 852.4,488.1 854.6,486.2 856.8,484.2 859.0,482.3 861.2,480.3 863.4,478.3 865.6,476.3 867.8,474.3 870.0,472.2 872.2,470.2 874.4,468.1 876.6,466.0 878.8,463.9 881.0,461.8 883.2,459.7 885.4,457.6 887.6,455.4 889.8,453.3 892.0,451.1 894.2,448.9 896.4,446.7 898.6,444.4 900.8,442.2 903.0,439.9 905.2,437.7 907.4,435.4 909.6,433.1 911.8,430.8 914.0,428.4 916.2,426.1 918.4,423.7 920.6,421.4 922.8,419.0 925.0,416.6 927.2,414.1 929.4,411.7 931.6,409.3 933.8,406.8 936.0,404.3 938.2,401.8 940.4,399.3 942.6,396.8 944.8,394.3 947.0,391.7 949.2,389.2 951.4,386.6 953.6,384.0 955.8,381.4 958.0,378.8 960.2,376.2 962.4,373.6 964.6,370.9 966.8,368.2 969.0,365.6 971.2,362.9 973.4,360.2 975.6,357.5 977.8,354.7 980.0,352.0 982.2,349.3 984.4,346.5 986.6,343.8 988.8,341.0 991.0,338.2 993.2,335.4 995.4,332.6 997.6,329.8 999.8,327.0 1002.0,324.1 1004.2,321.3 1006.4,318.5 1008.6,315.6 1010.8,312.7 1013.0,309.9 1015.2,307.0 1017.4,304.1 1019.6,301.2 1021.8,298.3 1024.0,295.4 1026.2,292.5 1028.4,289.6 1030.6,286.7 1032.8,283.8 1035.0,280.9 1037.2,277.9 1039.4,275.0 1041.6,272.1 1043.8,269.2 1046.0,266.2 1048.2,263.3 1050.4,260.4 1052.6,257.4 1054.8,254.5 1057.0,251.5 1059.2,248.6 1061.4,245.7 1063.6,242.7 1065.8,239.8 1068.0,236.9 1070.2,234.0 1072.4,231.0 1074.6,228.1 1076.8,225.2 1079.0,222.3 1081.2,219.4 1083.4,216.5 1085.6,213.6 1087.8,210.8 1090.0,207.9 1092.2,205.0 1094.4,202.2 1096.6,199.3 1098.8,196.5 1101.0,193.7 1103.2,190.8 1105.4,188.0 1107.6,185.3 1109.8,182.5 1112.0,179.7 1116.8,192.0 1114.7,194.8 1112.5,197.6 1110.3,200.4 1108.2,203.2 1106.0,206.0 1103.9,208.8 1101.7,211.6 1099.5,214.5 1097.4,217.3 1095.2,220.2 1093.1,223.0 1090.9,225.9 1088.7,228.7 1086.6,231.6 1084.4,234.5 1082.3,237.4 1080.1,240.2 1077.9,243.1 1075.8,246.0 1073.6,248.9 1071.5,251.8 1069.3,254.7 1067.1,257.6 1065.0,260.5 1062.8,263.4 1060.7,266.2 1058.5,269.1 1056.3,272.0 1054.2,274.9 1052.0,277.8 1049.9,280.7 1047.7,283.6 1045.5,286.4 1043.4,289.3 1041.2,292.2 1039.1,295.0 1036.9,297.9 1034.7,300.8 1032.6,303.6 1030.4,306.5 1028.3,309.3 1026.1,312.1 1023.9,315.0 1021.8,317.8 1019.6,320.6 1017.5,323.4 1015.3,326.2 1013.1,329.0 1011.0,331.8 1008.8,334.5 1006.7,337.3 1004.5,340.1 1002.3,342.8 1000.2,345.6 998.0,348.3 995.9,351.0 993.7,353.7 991.5,356.4 989.4,359.1 987.2,361.8 985.1,364.5 982.9,367.1 980.7,369.8 978.6,372.4 976.4,375.0 974.3,377.7 972.1,380.3 969.9,382.8 967.8,385.4 965.6,388.0 963.5,390.5 961.3,393.1 959.1,395.6 957.0,398.1 954.8,400.6 952.7,403.1 950.5,405.6 948.3,408.0 946.2,410.5 944.0,412.9 941.9,415.4 939.7,417.8 937.5,420.2 935.4,422.5 933.2,424.9 931.1,427.3 928.9,429.6 926.7,431.9 924.6,434.2 922.4,436.5 920.2,438.8 918.1,441.1 915.9,443.3 913.8,445.6 911.6,447.8 909.4,450.0 907.3,452.2 905.1,454.4 903.0,456.6 900.8,458.7 898.6,460.9 896.5,463.0 894.3,465.1 892.2,467.2 890.0,469.3 887.8,471.3 885.7,473.4 883.5,475.4 881.4,477.5 879.2,479.5 877.0,481.5 874.9,483.5 872.7,485.5 870.6,487.4 868.4,489.4 866.2,491.3 864.1,493.2 861.9,495.1 859.8,497.0 857.6,498.9 855.4,500.8 853.3,502.6 851.1,504.5 849.0,506.3 846.8,508.1 844.6,509.9 842.5,511.7 840.3,513.5 838.2,515.3 836.0,517.1 833.8,518.8 831.7,520.6 829.5,522.3 827.4,524.0 825.2,525.7 823.0,527.4 820.9,529.1 818.7,530.8 816.6,532.5 814.4,534.1 812.2,535.8 810.1,537.4 807.9,539.1 805.8,540.7 803.6,542.3 801.4,544.0 799.3,545.6 797.1,547.2 795.0,548.8 792.8,550.3 790.6,551.9 788.5,553.5 786.3,555.1 784.2,556.6 782.0,558.2 779.8,559.8 777.7,561.3 775.5,562.9 773.4,564.4 771.2,565.9 769.0,567.5 766.9,569.0 764.7,570.6 762.6,572.1 760.4,573.6 758.2,575.2 756.1,576.7 753.9,578.2 751.8,579.7 749.6,581.3 747.4,582.8 745.3,584.3 743.1,585.9 741.0,587.4 738.8,589.0 736.6,590.5 734.5,592.1 732.3,593.6 730.2,595.2 728.0,596.7 725.8,598.3 723.7,599.9 721.5,601.4 719.4,603.0 717.2,604.6 715.0,606.2 712.9,607.8 710.7,609.5 708.6,611.1 706.4,612.7 704.2,614.4 702.1,616.0 699.9,617.7 697.8,619.4 695.6,621.1 693.4,622.8 691.3,624.5 689.1,626.2 687.0,628.0" fill="#1a1cbc" filter="url(#b2)"/><polyline points="672.7,624.3 674.9,622.5 677.1,620.6 679.3,618.8 681.5,616.9 683.7,615.1 685.9,613.3 688.1,611.5 690.3,609.8 692.5,608.0 694.7,606.3 696.9,604.6 699.1,602.9 701.3,601.2 703.5,599.5 705.7,597.8 707.9,596.1 710.1,594.5 712.3,592.8 714.5,591.2 716.8,589.5 719.0,587.9 721.2,586.3 723.4,584.7 725.6,583.1 727.8,581.5 730.0,579.9 732.2,578.3 734.4,576.7 736.6,575.1 738.8,573.5 741.0,571.9 743.2,570.4 745.4,568.8 747.6,567.2 749.8,565.6 752.0,564.1 754.2,562.5 756.4,560.9 758.6,559.3 760.9,557.8 763.1,556.2 765.3,554.6 767.5,553.0 769.7,551.4 771.9,549.8 774.1,548.2 776.3,546.6 778.5,545.0 780.7,543.4 782.9,541.8 785.1,540.1 787.3,538.5 789.5,536.9 791.7,535.2 793.9,533.6 796.1,531.9 798.3,530.3 800.5,528.6 802.7,526.9 805.0,525.2 807.2,523.5 809.4,521.8 811.6,520.1 813.8,518.4 816.0,516.6 818.2,514.9 820.4,513.1 822.6,511.3 824.8,509.6 827.0,507.8 829.2,506.0 831.4,504.1 833.6,502.3 835.8,500.5 838.0,498.6 840.2,496.8 842.4,494.9 844.6,493.0 846.8,491.1 849.0,489.2 851.3,487.2 853.5,485.3 855.7,483.3 857.9,481.4 860.1,479.4 862.3,477.4 864.5,475.4 866.7,473.4 868.9,471.3 871.1,469.3 873.3,467.2 875.5,465.1 877.7,463.0 879.9,460.9 882.1,458.8 884.3,456.6 886.5,454.5 888.7,452.3 890.9,450.1 893.1,447.9 895.4,445.7 897.6,443.5 899.8,441.2 902.0,439.0 904.2,436.7 906.4,434.4 908.6,432.1 910.8,429.8 913.0,427.4 915.2,425.1 917.4,422.7 919.6,420.3 921.8,417.9 924.0,415.5 926.2,413.1 928.4,410.7 930.6,408.2 932.8,405.7 935.0,403.3 937.2,400.8 939.5,398.2 941.7,395.7 943.9,393.2 946.1,390.6 948.3,388.1 950.5,385.5 952.7,382.9 954.9,380.3 957.1,377.7 959.3,375.0 961.5,372.4 963.7,369.7 965.9,367.1 968.1,364.4 970.3,361.7 972.5,359.0 974.7,356.3 976.9,353.5 979.1,350.8 981.4,348.0 983.6,345.3 985.8,342.5 988.0,339.7 990.2,336.9 992.4,334.1 994.6,331.3 996.8,328.5 999.0,325.7 1001.2,322.8 1003.4,320.0 1005.6,317.1 1007.8,314.3 1010.0,311.4 1012.2,308.5 1014.4,305.6 1016.6,302.8 1018.8,299.9 1021.0,297.0 1023.2,294.1 1025.5,291.1 1027.7,288.2 1029.9,285.3 1032.1,282.4 1034.3,279.5 1036.5,276.5 1038.7,273.6 1040.9,270.7 1043.1,267.7 1045.3,264.8 1047.5,261.8 1049.7,258.9 1051.9,255.9 1054.1,253.0 1056.3,250.1 1058.5,247.1 1060.7,244.2 1062.9,241.3 1065.1,238.3 1067.3,235.4 1069.6,232.5 1071.8,229.5 1074.0,226.6 1076.2,223.7 1078.4,220.8 1080.6,217.9 1082.8,215.0 1085.0,212.1 1087.2,209.2 1089.4,206.3 1091.6,203.5 1093.8,200.6 1096.0,197.8 1098.2,194.9 1100.4,192.1 1102.6,189.3 1104.8,186.5 1107.0,183.7 1109.2,180.9 1111.4,178.2" fill="none" stroke="#0c0c6c" stroke-width="3" stroke-opacity="0.8" filter="url(#b1)"/><polyline points="681.1,626.5 683.3,624.7 685.5,622.9 687.7,621.1 689.8,619.4 692.0,617.6 694.2,615.9 696.4,614.2 698.6,612.5 700.7,610.8 702.9,609.1 705.1,607.5 707.3,605.8 709.4,604.2 711.6,602.5 713.8,600.9 716.0,599.3 718.2,597.7 720.3,596.1 722.5,594.5 724.7,592.9 726.9,591.3 729.1,589.7 731.2,588.1 733.4,586.6 735.6,585.0 737.8,583.4 739.9,581.9 742.1,580.3 744.3,578.8 746.5,577.2 748.7,575.7 750.8,574.1 753.0,572.6 755.2,571.0 757.4,569.5 759.6,567.9 761.7,566.4 763.9,564.8 766.1,563.3 768.3,561.7 770.4,560.1 772.6,558.6 774.8,557.0 777.0,555.4 779.2,553.9 781.3,552.3 783.5,550.7 785.7,549.1 787.9,547.5 790.0,545.9 792.2,544.3 794.4,542.7 796.6,541.1 798.8,539.4 800.9,537.8 803.1,536.2 805.3,534.5 807.5,532.9 809.7,531.2 811.8,529.5 814.0,527.8 816.2,526.1 818.4,524.4 820.5,522.7 822.7,521.0 824.9,519.3 827.1,517.5 829.3,515.8 831.4,514.0 833.6,512.2 835.8,510.4 838.0,508.6 840.2,506.8 842.3,505.0 844.5,503.2 846.7,501.3 848.9,499.5 851.0,497.6 853.2,495.7 855.4,493.8 857.6,491.9 859.8,490.0 861.9,488.1 864.1,486.1 866.3,484.1 868.5,482.2 870.6,480.2 872.8,478.2 875.0,476.2 877.2,474.1 879.4,472.1 881.5,470.0 883.7,468.0 885.9,465.9 888.1,463.8 890.3,461.6 892.4,459.5 894.6,457.4 896.8,455.2 899.0,453.0 901.1,450.9 903.3,448.6 905.5,446.4 907.7,444.2 909.9,442.0 912.0,439.7 914.2,437.4 916.4,435.1 918.6,432.8 920.8,430.5 922.9,428.2 925.1,425.8 927.3,423.5 929.5,421.1 931.6,418.7 933.8,416.3 936.0,413.9 938.2,411.4 940.4,409.0 942.5,406.5 944.7,404.1 946.9,401.6 949.1,399.1 951.2,396.6 953.4,394.0 955.6,391.5 957.8,388.9 960.0,386.4 962.1,383.8 964.3,381.2 966.5,378.6 968.7,376.0 970.9,373.3 973.0,370.7 975.2,368.0 977.4,365.4 979.6,362.7 981.7,360.0 983.9,357.3 986.1,354.6 988.3,351.9 990.5,349.2 992.6,346.4 994.8,343.7 997.0,340.9 999.2,338.1 1001.4,335.4 1003.5,332.6 1005.7,329.8 1007.9,327.0 1010.1,324.2 1012.2,321.3 1014.4,318.5 1016.6,315.7 1018.8,312.8 1021.0,310.0 1023.1,307.1 1025.3,304.3 1027.5,301.4 1029.7,298.5 1031.9,295.7 1034.0,292.8 1036.2,289.9 1038.4,287.0 1040.6,284.1 1042.7,281.2 1044.9,278.3 1047.1,275.4 1049.3,272.5 1051.5,269.6 1053.6,266.7 1055.8,263.8 1058.0,260.9 1060.2,257.9 1062.3,255.0 1064.5,252.1 1066.7,249.2 1068.9,246.3 1071.1,243.4 1073.2,240.5 1075.4,237.6 1077.6,234.7 1079.8,231.8 1082.0,228.9 1084.1,226.0 1086.3,223.1 1088.5,220.3 1090.7,217.4 1092.8,214.5 1095.0,211.7 1097.2,208.8 1099.4,206.0 1101.6,203.2 1103.7,200.3 1105.9,197.5 1108.1,194.7 1110.3,191.9 1112.5,189.2 1114.6,186.4" fill="none" stroke="#2428e0" stroke-width="4" stroke-opacity="0.85" filter="url(#b1)"/><polygon points="687.0,628.0 689.1,626.2 691.3,624.5 693.4,622.8 695.6,621.1 697.8,619.4 699.9,617.7 702.1,616.0 704.2,614.4 706.4,612.7 708.6,611.1 710.7,609.5 712.9,607.8 715.0,606.2 717.2,604.6 719.4,603.0 721.5,601.4 723.7,599.9 725.8,598.3 728.0,596.7 730.2,595.2 732.3,593.6 734.5,592.1 736.6,590.5 738.8,589.0 741.0,587.4 743.1,585.9 745.3,584.3 747.4,582.8 749.6,581.3 751.8,579.7 753.9,578.2 756.1,576.7 758.2,575.2 760.4,573.6 762.6,572.1 764.7,570.6 766.9,569.0 769.0,567.5 771.2,565.9 773.4,564.4 775.5,562.9 777.7,561.3 779.8,559.8 782.0,558.2 784.2,556.6 786.3,555.1 788.5,553.5 790.6,551.9 792.8,550.3 795.0,548.8 797.1,547.2 799.3,545.6 801.4,544.0 803.6,542.3 805.8,540.7 807.9,539.1 810.1,537.4 812.2,535.8 814.4,534.1 816.6,532.5 818.7,530.8 820.9,529.1 823.0,527.4 825.2,525.7 827.4,524.0 829.5,522.3 831.7,520.6 833.8,518.8 836.0,517.1 838.2,515.3 840.3,513.5 842.5,511.7 844.6,509.9 846.8,508.1 849.0,506.3 851.1,504.5 853.3,502.6 855.4,500.8 857.6,498.9 859.8,497.0 861.9,495.1 864.1,493.2 866.2,491.3 868.4,489.4 870.6,487.4 872.7,485.5 874.9,483.5 877.0,481.5 879.2,479.5 881.4,477.5 883.5,475.4 885.7,473.4 887.8,471.3 890.0,469.3 892.2,467.2 894.3,465.1 896.5,463.0 898.6,460.9 900.8,458.7 903.0,456.6 905.1,454.4 907.3,452.2 909.4,450.0 911.6,447.8 913.8,445.6 915.9,443.3 918.1,441.1 920.2,438.8 922.4,436.5 924.6,434.2 926.7,431.9 928.9,429.6 931.1,427.3 933.2,424.9 935.4,422.5 937.5,420.2 939.7,417.8 941.9,415.4 944.0,412.9 946.2,410.5 948.3,408.0 950.5,405.6 952.7,403.1 954.8,400.6 957.0,398.1 959.1,395.6 961.3,393.1 963.5,390.5 965.6,388.0 967.8,385.4 969.9,382.8 972.1,380.3 974.3,377.7 976.4,375.0 978.6,372.4 980.7,369.8 982.9,367.1 985.1,364.5 987.2,361.8 989.4,359.1 991.5,356.4 993.7,353.7 995.9,351.0 998.0,348.3 1000.2,345.6 1002.3,342.8 1004.5,340.1 1006.7,337.3 1008.8,334.5 1011.0,331.8 1013.1,329.0 1015.3,326.2 1017.5,323.4 1019.6,320.6 1021.8,317.8 1023.9,315.0 1026.1,312.1 1028.3,309.3 1030.4,306.5 1032.6,303.6 1034.7,300.8 1036.9,297.9 1039.1,295.0 1041.2,292.2 1043.4,289.3 1045.5,286.4 1047.7,283.6 1049.9,280.7 1052.0,277.8 1054.2,274.9 1056.3,272.0 1058.5,269.1 1060.7,266.2 1062.8,263.4 1065.0,260.5 1067.1,257.6 1069.3,254.7 1071.5,251.8 1073.6,248.9 1075.8,246.0 1077.9,243.1 1080.1,240.2 1082.3,237.4 1084.4,234.5 1086.6,231.6 1088.7,228.7 1090.9,225.9 1093.1,223.0 1095.2,220.2 1097.4,217.3 1099.5,214.5 1101.7,211.6 1103.9,208.8 1106.0,206.0 1108.2,203.2 1110.3,200.4 1112.5,197.6 1114.7,194.8 1116.8,192.0 1120.4,201.3 1118.3,204.1 1116.1,206.9 1114.0,209.6 1111.9,212.4 1109.7,215.3 1107.6,218.1 1105.5,220.9 1103.4,223.7 1101.2,226.6 1099.1,229.4 1097.0,232.2 1094.8,235.1 1092.7,237.9 1090.6,240.8 1088.4,243.6 1086.3,246.5 1084.2,249.3 1082.1,252.2 1079.9,255.1 1077.8,257.9 1075.7,260.8 1073.5,263.6 1071.4,266.5 1069.3,269.4 1067.1,272.2 1065.0,275.1 1062.9,277.9 1060.8,280.8 1058.6,283.6 1056.5,286.5 1054.4,289.3 1052.2,292.2 1050.1,295.0 1048.0,297.8 1045.8,300.7 1043.7,303.5 1041.6,306.3 1039.5,309.1 1037.3,311.9 1035.2,314.7 1033.1,317.5 1030.9,320.3 1028.8,323.1 1026.7,325.9 1024.5,328.6 1022.4,331.4 1020.3,334.1 1018.2,336.9 1016.0,339.6 1013.9,342.4 1011.8,345.1 1009.6,347.8 1007.5,350.5 1005.4,353.2 1003.2,355.9 1001.1,358.5 999.0,361.2 996.9,363.9 994.7,366.5 992.6,369.1 990.5,371.8 988.3,374.4 986.2,377.0 984.1,379.6 981.9,382.1 979.8,384.7 977.7,387.3 975.5,389.8 973.4,392.3 971.3,394.9 969.2,397.4 967.0,399.9 964.9,402.4 962.8,404.8 960.6,407.3 958.5,409.7 956.4,412.2 954.2,414.6 952.1,417.0 950.0,419.4 947.9,421.8 945.7,424.1 943.6,426.5 941.5,428.8 939.3,431.2 937.2,433.5 935.1,435.8 932.9,438.1 930.8,440.3 928.7,442.6 926.6,444.8 924.4,447.1 922.3,449.3 920.2,451.5 918.0,453.7 915.9,455.9 913.8,458.0 911.6,460.2 909.5,462.3 907.4,464.4 905.3,466.6 903.1,468.7 901.0,470.7 898.9,472.8 896.7,474.9 894.6,476.9 892.5,478.9 890.3,480.9 888.2,482.9 886.1,484.9 884.0,486.9 881.8,488.9 879.7,490.8 877.6,492.8 875.4,494.7 873.3,496.6 871.2,498.5 869.0,500.4 866.9,502.3 864.8,504.1 862.7,506.0 860.5,507.8 858.4,509.6 856.3,511.4 854.1,513.2 852.0,515.0 849.9,516.8 847.7,518.6 845.6,520.3 843.5,522.1 841.4,523.8 839.2,525.5 837.1,527.3 835.0,529.0 832.8,530.6 830.7,532.3 828.6,534.0 826.4,535.7 824.3,537.3 822.2,539.0 820.0,540.6 817.9,542.2 815.8,543.9 813.7,545.5 811.5,547.1 809.4,548.7 807.3,550.3 805.1,551.8 803.0,553.4 800.9,555.0 798.7,556.5 796.6,558.1 794.5,559.6 792.4,561.2 790.2,562.7 788.1,564.3 786.0,565.8 783.8,567.3 781.7,568.8 779.6,570.4 777.4,571.9 775.3,573.4 773.2,574.9 771.1,576.4 768.9,577.9 766.8,579.4 764.7,580.9 762.5,582.4 760.4,583.9 758.3,585.4 756.1,586.9 754.0,588.4 751.9,589.9 749.8,591.4 747.6,592.9 745.5,594.4 743.4,595.9 741.2,597.4 739.1,598.9 737.0,600.4 734.8,601.9 732.7,603.5 730.6,605.0 728.5,606.5 726.3,608.1 724.2,609.6 722.1,611.2 719.9,612.7 717.8,614.3 715.7,615.9 713.5,617.4 711.4,619.0 709.3,620.6 707.2,622.2 705.0,623.8 702.9,625.5 700.8,627.1 698.6,628.8 696.5,630.4" fill="#131388" filter="url(#b2)"/><polyline points="695.7,630.2 697.8,628.6 700.0,626.9 702.1,625.3 704.2,623.6 706.4,622.0 708.5,620.4 710.6,618.8 712.8,617.2 714.9,615.6 717.0,614.0 719.2,612.4 721.3,610.9 723.4,609.3 725.6,607.8 727.7,606.2 729.8,604.7 732.0,603.2 734.1,601.6 736.2,600.1 738.4,598.6 740.5,597.1 742.6,595.6 744.8,594.1 746.9,592.6 749.0,591.1 751.2,589.6 753.3,588.1 755.4,586.6 757.6,585.0 759.7,583.5 761.8,582.0 763.9,580.5 766.1,579.0 768.2,577.5 770.3,576.0 772.5,574.5 774.6,573.0 776.7,571.5 778.9,570.0 781.0,568.5 783.1,566.9 785.3,565.4 787.4,563.9 789.5,562.4 791.7,560.8 793.8,559.3 795.9,557.7 798.1,556.2 800.2,554.6 802.3,553.0 804.5,551.4 806.6,549.9 808.7,548.3 810.9,546.7 813.0,545.1 815.1,543.5 817.3,541.8 819.4,540.2 821.5,538.6 823.7,536.9 825.8,535.3 827.9,533.6 830.1,531.9 832.2,530.2 834.3,528.5 836.5,526.8 838.6,525.1 840.7,523.4 842.9,521.7 845.0,519.9 847.1,518.2 849.3,516.4 851.4,514.6 853.5,512.8 855.7,511.0 857.8,509.2 859.9,507.4 862.1,505.5 864.2,503.7 866.3,501.8 868.4,499.9 870.6,498.1 872.7,496.2 874.8,494.2 877.0,492.3 879.1,490.4 881.2,488.4 883.4,486.5 885.5,484.5 887.6,482.5 889.8,480.5 891.9,478.5 894.0,476.4 896.2,474.4 898.3,472.3 900.4,470.3 902.6,468.2 904.7,466.1 906.8,464.0 909.0,461.8 911.1,459.7 913.2,457.5 915.4,455.4 917.5,453.2 919.6,451.0 921.8,448.8 923.9,446.6 926.0,444.3 928.2,442.1 930.3,439.8 932.4,437.5 934.6,435.3 936.7,433.0 938.8,430.6 941.0,428.3 943.1,426.0 945.2,423.6 947.4,421.2 949.5,418.8 951.6,416.4 953.8,414.0 955.9,411.6 958.0,409.2 960.2,406.7 962.3,404.3 964.4,401.8 966.6,399.3 968.7,396.8 970.8,394.3 972.9,391.8 975.1,389.2 977.2,386.7 979.3,384.1 981.5,381.6 983.6,379.0 985.7,376.4 987.9,373.8 990.0,371.2 992.1,368.5 994.3,365.9 996.4,363.2 998.5,360.6 1000.7,357.9 1002.8,355.2 1004.9,352.6 1007.1,349.9 1009.2,347.1 1011.3,344.4 1013.5,341.7 1015.6,339.0 1017.7,336.2 1019.9,333.5 1022.0,330.7 1024.1,328.0 1026.3,325.2 1028.4,322.4 1030.5,319.6 1032.7,316.8 1034.8,314.0 1036.9,311.2 1039.1,308.4 1041.2,305.6 1043.3,302.8 1045.5,299.9 1047.6,297.1 1049.7,294.3 1051.9,291.4 1054.0,288.6 1056.1,285.7 1058.3,282.9 1060.4,280.0 1062.5,277.2 1064.7,274.3 1066.8,271.5 1068.9,268.6 1071.1,265.8 1073.2,262.9 1075.3,260.0 1077.4,257.2 1079.6,254.3 1081.7,251.4 1083.8,248.6 1086.0,245.7 1088.1,242.9 1090.2,240.0 1092.4,237.2 1094.5,234.3 1096.6,231.5 1098.8,228.6 1100.9,225.8 1103.0,222.9 1105.2,220.1 1107.3,217.3 1109.4,214.5 1111.6,211.7 1113.7,208.9 1115.8,206.1 1118.0,203.3 1120.1,200.5" fill="none" stroke="#0a0a50" stroke-width="1.2" stroke-opacity="0.8"/><polygon points="1100.5,151.6 1130.6,156.6 1120.2,170.9 1108,176 1094,170" fill="#16169a"/><ellipse cx="1098" cy="174" rx="9" ry="6" fill="#2a3ac8" opacity="0.6" filter="url(#b1)"/><path d="M1120.2,170.9 L1122.9,180.2 L1114,190 L1106,199 L1101.5,200.5 L1103,194 L1111,182 Z" fill="url(#wg2)" filter="url(#b2)"/><path d="M1122.9,180.2 L1128,182 L1114,196 L1106,199 Z" fill="#2a5ad8" opacity="0.7" filter="url(#b1)"/><path d="M1120,172 L1123,179 L1119,181 Z" fill="#d07010"/><polygon points="1124,181 1136.2,182.5 1120.4,200 1113,199" fill="#141490"/><ellipse cx="690" cy="621" rx="10" ry="5" transform="rotate(-38 690 621)" fill="#3a78d0" opacity="0.7" filter="url(#b1)"/><polygon points="643.5,616.4 673.3,620.5 684,617 655,609" fill="#10106e"/><ellipse cx="662.5" cy="642" rx="1.8" ry="3" fill="#d07018" opacity="0.8" filter="url(#b2)"/><polygon points="648,645.3 659.7,633.7 662,640 668,645 680,648.4 677.5,650.5 668,651.5" fill="#10107a"/><polygon points="658,620 673.3,620.5 683.3,626.3 686.4,630.2 676,637 668,642 663,647.5 660.5,647 659.5,636" fill="url(#webg)" filter="url(#b2)"/><polyline points="662,646 670,640 686,630" fill="none" stroke="#80d0e0" stroke-width="1" opacity="0.6" filter="url(#b2)"/></svg>
<div class="t" style="left:8px;top:147.1px">Déplacement Int (Repère universel)
(mm)
Déformé
Déplac. maximal  3.8023E+00
Echelle  7.6401E+01
Jeu de charges :LoadSet1 :  HEA_220_6000_MM</div>
<div class="t" style="left:648px;top:147.1px">Contrainte von Mises (Repère universel)
(MPa)
Déformé
Echelle  7.6401E+01
Jeu de charges :LoadSet1 :  HEA_220_6000_MM</div>
<div class="seg" style="left:519px;top:160.0px;background:linear-gradient(to bottom,#3c2c30,#7a1418)"></div><div class="lab" style="left:550px;top:150.5px">3.80233</div><div class="seg" style="left:519px;top:178.0px;background:linear-gradient(to bottom,#8a0a10,#b00a0a)"></div><div class="lab" style="left:550px;top:168.5px">3.56468</div><div class="seg" style="left:519px;top:196.0px;background:linear-gradient(to bottom,#c00808,#e00808)"></div><div class="lab" style="left:550px;top:186.5px">3.32704</div><div class="seg" style="left:519px;top:214.0px;background:linear-gradient(to bottom,#f00a0a,#ff3008)"></div><div class="lab" style="left:550px;top:204.5px">3.08939</div><div class="seg" style="left:519px;top:232.0px;background:linear-gradient(to bottom left, rgba(40,30,70,0.9) 0%, rgba(40,30,70,0.5) 22%, rgba(40,30,70,0) 48%),linear-gradient(to bottom,#ff5a08,#ff7008)"></div><div class="lab" style="left:550px;top:222.5px">2.85175</div><div class="seg" style="left:519px;top:250.0px;background:linear-gradient(to bottom left, rgba(40,30,70,0.9) 0%, rgba(40,30,70,0.5) 22%, rgba(40,30,70,0) 48%),linear-gradient(to bottom,#ff9008,#ffa808)"></div><div class="lab" style="left:550px;top:240.5px">2.61410</div><div class="seg" style="left:519px;top:268.0px;background:linear-gradient(to bottom left, rgba(40,30,70,0.9) 0%, rgba(40,30,70,0.5) 22%, rgba(40,30,70,0) 48%),linear-gradient(to bottom,#ffc808,#ffe808)"></div><div class="lab" style="left:550px;top:258.5px">2.37646</div><div class="seg" style="left:519px;top:286.0px;background:linear-gradient(to bottom left, rgba(40,30,70,0.9) 0%, rgba(40,30,70,0.5) 22%, rgba(40,30,70,0) 48%),linear-gradient(to bottom,#d0f010,#a0f010)"></div><div class="lab" style="left:550px;top:276.5px">2.13881</div><div class="seg" style="left:519px;top:304.0px;background:linear-gradient(to bottom left, rgba(40,30,70,0.9) 0%, rgba(40,30,70,0.5) 22%, rgba(40,30,70,0) 48%),linear-gradient(to bottom,#80f010,#10e010)"></div><div class="lab" style="left:550px;top:294.5px">1.90116</div><div class="seg" style="left:519px;top:322.0px;background:linear-gradient(to bottom left, rgba(40,30,70,0.9) 0%, rgba(40,30,70,0.5) 22%, rgba(40,30,70,0) 48%),linear-gradient(to bottom,#10e030,#20e860)"></div><div class="lab" style="left:550px;top:312.5px">1.66352</div><div class="seg" style="left:519px;top:340.0px;background:linear-gradient(to bottom left, rgba(40,30,70,0.9) 0%, rgba(40,30,70,0.5) 22%, rgba(40,30,70,0) 48%),linear-gradient(to bottom,#40f0a0,#50e8c0)"></div><div class="lab" style="left:550px;top:330.5px">1.42587</div><div class="seg" style="left:519px;top:358.0px;background:linear-gradient(to bottom left, rgba(40,30,70,0.9) 0%, rgba(40,30,70,0.5) 22%, rgba(40,30,70,0) 48%),linear-gradient(to bottom,#50d8c8,#40c8d0)"></div><div class="lab" style="left:550px;top:348.5px">1.18823</div><div class="seg" style="left:519px;top:376.0px;background:linear-gradient(to bottom left, rgba(40,30,70,0.9) 0%, rgba(40,30,70,0.5) 22%, rgba(40,30,70,0) 48%),linear-gradient(to bottom,#30a8d8,#20a0e8)"></div><div class="lab" style="left:550px;top:366.5px">0.95058</div><div class="seg" style="left:519px;top:394.0px;background:linear-gradient(to bottom left, rgba(40,30,70,0.9) 0%, rgba(40,30,70,0.5) 22%, rgba(40,30,70,0) 48%),linear-gradient(to bottom,#1878f0,#1060e8)"></div><div class="lab" style="left:550px;top:384.5px">0.71294</div><div class="seg" style="left:519px;top:412.0px;background:linear-gradient(to bottom left, rgba(40,30,70,0.9) 0%, rgba(40,30,70,0.5) 22%, rgba(40,30,70,0) 48%),linear-gradient(to bottom,#1020f0,#0a10f0)"></div><div class="lab" style="left:550px;top:402.5px">0.47529</div><div class="seg" style="left:519px;top:430.0px;background:linear-gradient(to bottom,#1c1ca0,#20208c)"></div><div class="lab" style="left:550px;top:420.5px">0.23765</div><div class="lab" style="left:550px;top:438.5px">0.00000</div>
<div class="seg" style="left:1159px;top:160.0px;background:linear-gradient(to bottom,#8a0a10,#c00a0a)"></div><div class="lab" style="left:1190px;top:150.5px">273.794</div><div class="seg" style="left:1159px;top:178.0px;background:linear-gradient(to bottom,#e00808,#f00a0a)"></div><div class="lab" style="left:1190px;top:168.5px">255.550</div><div class="seg" style="left:1159px;top:196.0px;background:linear-gradient(to bottom,#ff2a08,#ff4a08)"></div><div class="lab" style="left:1190px;top:186.5px">237.306</div><div class="seg" style="left:1159px;top:214.0px;background:linear-gradient(to bottom,#ff7008,#ff8008)"></div><div class="lab" style="left:1190px;top:204.5px">219.062</div><div class="seg" style="left:1159px;top:232.0px;background:linear-gradient(to bottom left, rgba(40,30,70,0.9) 0%, rgba(40,30,70,0.5) 22%, rgba(40,30,70,0) 48%),linear-gradient(to bottom,#ff9808,#ffa808)"></div><div class="lab" style="left:1190px;top:222.5px">200.818</div><div class="seg" style="left:1159px;top:250.0px;background:linear-gradient(to bottom left, rgba(40,30,70,0.9) 0%, rgba(40,30,70,0.5) 22%, rgba(40,30,70,0) 48%),linear-gradient(to bottom,#ffc808,#ffe808)"></div><div class="lab" style="left:1190px;top:240.5px">182.574</div><div class="seg" style="left:1159px;top:268.0px;background:linear-gradient(to bottom left, rgba(40,30,70,0.9) 0%, rgba(40,30,70,0.5) 22%, rgba(40,30,70,0) 48%),linear-gradient(to bottom,#e0f010,#c8f010)"></div><div class="lab" style="left:1190px;top:258.5px">164.330</div><div class="seg" style="left:1159px;top:286.0px;background:linear-gradient(to bottom left, rgba(40,30,70,0.9) 0%, rgba(40,30,70,0.5) 22%, rgba(40,30,70,0) 48%),linear-gradient(to bottom,#40f010,#20e820)"></div><div class="lab" style="left:1190px;top:276.5px">146.087</div><div class="seg" style="left:1159px;top:304.0px;background:linear-gradient(to bottom left, rgba(40,30,70,0.9) 0%, rgba(40,30,70,0.5) 22%, rgba(40,30,70,0) 48%),linear-gradient(to bottom,#20f040,#30e880)"></div><div class="lab" style="left:1190px;top:294.5px">127.843</div><div class="seg" style="left:1159px;top:322.0px;background:linear-gradient(to bottom left, rgba(40,30,70,0.9) 0%, rgba(40,30,70,0.5) 22%, rgba(40,30,70,0) 48%),linear-gradient(to bottom,#50f0b0,#60e8c8)"></div><div class="lab" style="left:1190px;top:312.5px">109.599</div><div class="seg" style="left:1159px;top:340.0px;background:linear-gradient(to bottom left, rgba(40,30,70,0.9) 0%, rgba(40,30,70,0.5) 22%, rgba(40,30,70,0) 48%),linear-gradient(to bottom,#50d8d0,#40c0d0)"></div><div class="lab" style="left:1190px;top:330.5px">91.3550</div><div class="seg" style="left:1159px;top:358.0px;background:linear-gradient(to bottom left, rgba(40,30,70,0.9) 0%, rgba(40,30,70,0.5) 22%, rgba(40,30,70,0) 48%),linear-gradient(to bottom,#30a0d8,#20a8e8)"></div><div class="lab" style="left:1190px;top:348.5px">73.1111</div><div class="seg" style="left:1159px;top:376.0px;background:linear-gradient(to bottom left, rgba(40,30,70,0.9) 0%, rgba(40,30,70,0.5) 22%, rgba(40,30,70,0) 48%),linear-gradient(to bottom,#1880f0,#1468e8)"></div><div class="lab" style="left:1190px;top:366.5px">54.8673</div><div class="seg" style="left:1159px;top:394.0px;background:linear-gradient(to bottom left, rgba(40,30,70,0.9) 0%, rgba(40,30,70,0.5) 22%, rgba(40,30,70,0) 48%),linear-gradient(to bottom,#1020e8,#0a10f0)"></div><div class="lab" style="left:1190px;top:384.5px">36.6234</div><div class="seg" style="left:1159px;top:412.0px;background:linear-gradient(to bottom,#1c1c98,#20208c)"></div><div class="lab" style="left:1190px;top:402.5px">18.3795</div><div class="lab" style="left:1190px;top:420.5px">0.13567</div>
<div class="cap" style="left:1px;top:724px">HEA_220_5810_MM_41550N - HEA_220_5810_MM_41550N</div>
<div class="cap" style="left:641px;top:724px">HEA_220_5810_MM_41550N - HEA_220_5810_MM_41550N</div>
</body></html>
